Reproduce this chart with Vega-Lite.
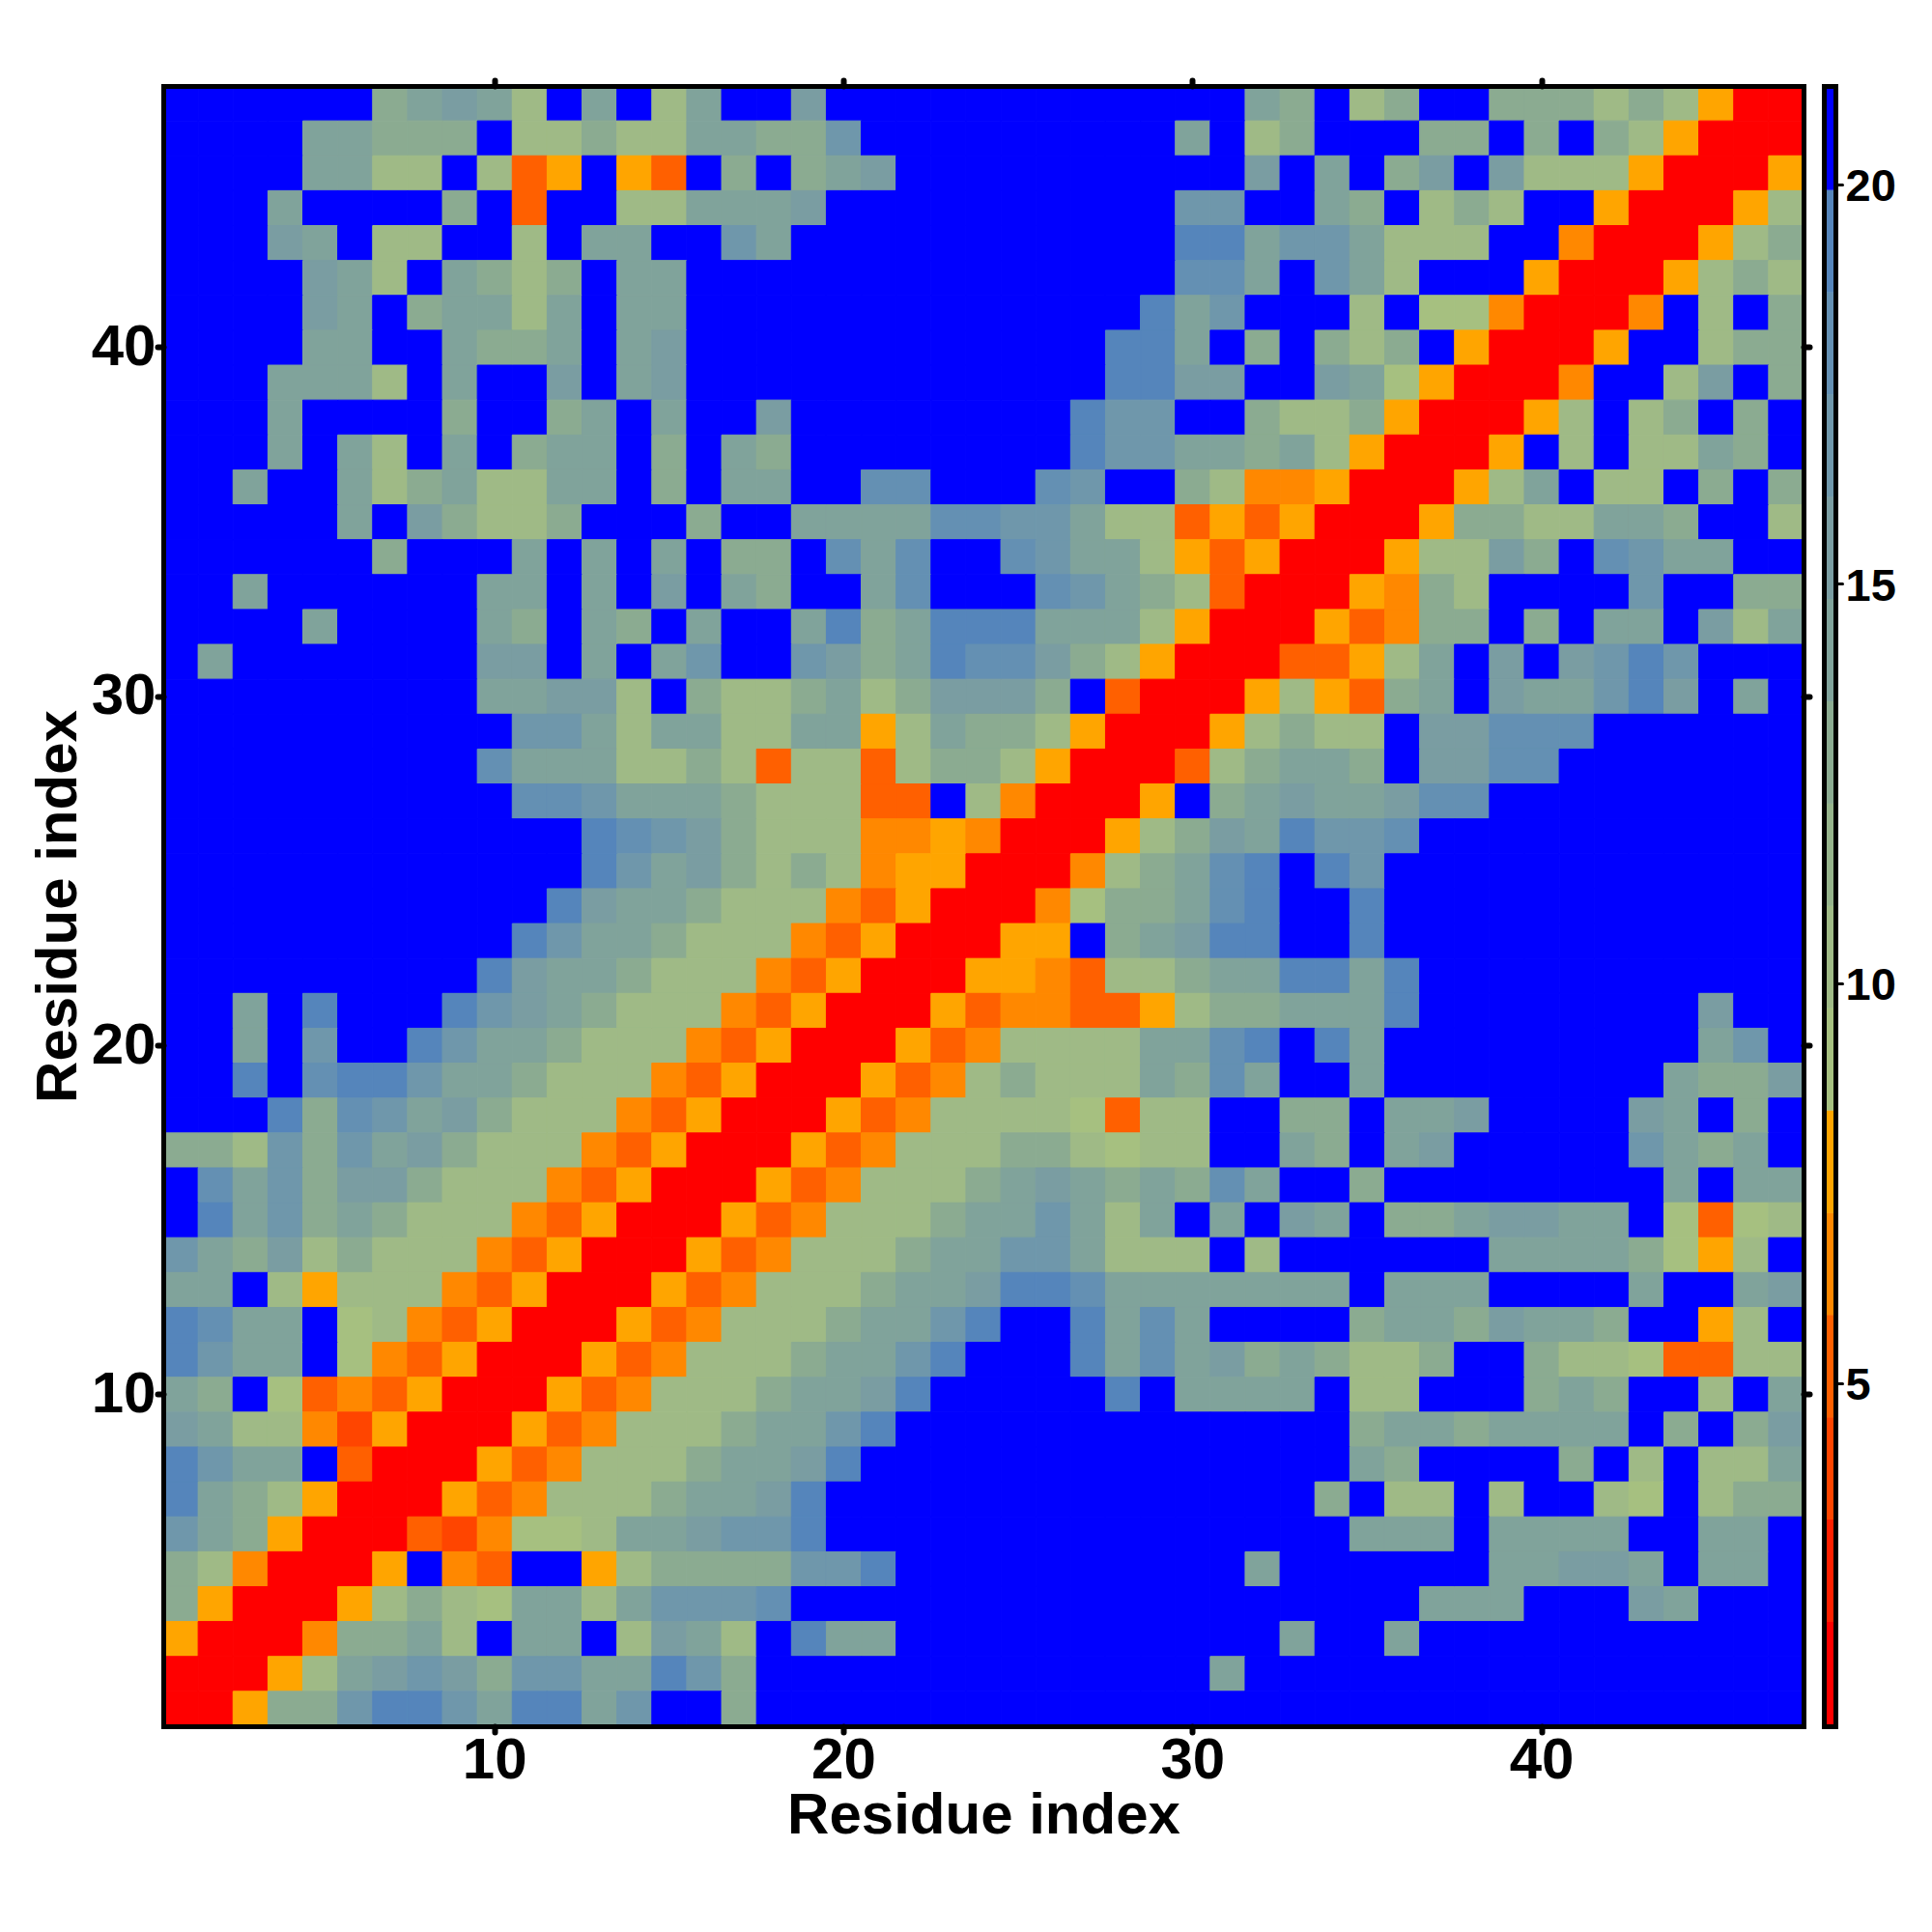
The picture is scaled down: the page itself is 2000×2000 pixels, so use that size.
{"$schema":"https://vega.github.io/schema/vega-lite/v6.json","background":"white","padding":{"left":30,"top":80,"right":0,"bottom":0},"spacing":12,"config":{"view":{"stroke":null},"axis":{"grid":false,"domainColor":"black","domainWidth":5,"domainCap":"square","tickColor":"black","tickCap":"round","labelOverlap":false,"labelFlush":false}},"hconcat":[{"width":1698,"height":1698,"data":{"values":[
{"x":1,"y":47,"v":21},{"x":2,"y":47,"v":21},{"x":3,"y":47,"v":21},{"x":4,"y":47,"v":21},{"x":5,"y":47,"v":21},{"x":6,"y":47,"v":21},{"x":7,"y":47,"v":12.9},{"x":8,"y":47,"v":14.2},{"x":9,"y":47,"v":15.4},{"x":10,"y":47,"v":14.2},{"x":11,"y":47,"v":10.3},{"x":12,"y":47,"v":21},{"x":13,"y":47,"v":14.2},{"x":14,"y":47,"v":21},{"x":15,"y":47,"v":10.3},{"x":16,"y":47,"v":14.2},{"x":17,"y":47,"v":21},{"x":18,"y":47,"v":21},{"x":19,"y":47,"v":15.4},{"x":20,"y":47,"v":21},{"x":21,"y":47,"v":21},{"x":22,"y":47,"v":21},{"x":23,"y":47,"v":21},{"x":24,"y":47,"v":21},{"x":25,"y":47,"v":21},{"x":26,"y":47,"v":21},{"x":27,"y":47,"v":21},{"x":28,"y":47,"v":21},{"x":29,"y":47,"v":21},{"x":30,"y":47,"v":21},{"x":31,"y":47,"v":21},{"x":32,"y":47,"v":14.2},{"x":33,"y":47,"v":12.9},{"x":34,"y":47,"v":21},{"x":35,"y":47,"v":10.3},{"x":36,"y":47,"v":12.9},{"x":37,"y":47,"v":21},{"x":38,"y":47,"v":21},{"x":39,"y":47,"v":12.9},{"x":40,"y":47,"v":12.9},{"x":41,"y":47,"v":12.9},{"x":42,"y":47,"v":10.3},{"x":43,"y":47,"v":12.9},{"x":44,"y":47,"v":10.3},{"x":45,"y":47,"v":7.8},{"x":46,"y":47,"v":1.4},{"x":47,"y":47,"v":1.4},
{"x":1,"y":46,"v":21},{"x":2,"y":46,"v":21},{"x":3,"y":46,"v":21},{"x":4,"y":46,"v":21},{"x":5,"y":46,"v":14.2},{"x":6,"y":46,"v":14.2},{"x":7,"y":46,"v":12.9},{"x":8,"y":46,"v":12.9},{"x":9,"y":46,"v":12.9},{"x":10,"y":46,"v":21},{"x":11,"y":46,"v":10.3},{"x":12,"y":46,"v":10.3},{"x":13,"y":46,"v":12.9},{"x":14,"y":46,"v":10.3},{"x":15,"y":46,"v":10.3},{"x":16,"y":46,"v":14.2},{"x":17,"y":46,"v":14.2},{"x":18,"y":46,"v":12.9},{"x":19,"y":46,"v":12.9},{"x":20,"y":46,"v":16.7},{"x":21,"y":46,"v":21},{"x":22,"y":46,"v":21},{"x":23,"y":46,"v":21},{"x":24,"y":46,"v":21},{"x":25,"y":46,"v":21},{"x":26,"y":46,"v":21},{"x":27,"y":46,"v":21},{"x":28,"y":46,"v":21},{"x":29,"y":46,"v":21},{"x":30,"y":46,"v":14.2},{"x":31,"y":46,"v":21},{"x":32,"y":46,"v":10.3},{"x":33,"y":46,"v":12.9},{"x":34,"y":46,"v":21},{"x":35,"y":46,"v":21},{"x":36,"y":46,"v":21},{"x":37,"y":46,"v":12.9},{"x":38,"y":46,"v":12.9},{"x":39,"y":46,"v":21},{"x":40,"y":46,"v":12.9},{"x":41,"y":46,"v":21},{"x":42,"y":46,"v":12.9},{"x":43,"y":46,"v":10.3},{"x":44,"y":46,"v":7.8},{"x":45,"y":46,"v":1.4},{"x":46,"y":46,"v":1.4},{"x":47,"y":46,"v":1.4},
{"x":1,"y":45,"v":21},{"x":2,"y":45,"v":21},{"x":3,"y":45,"v":21},{"x":4,"y":45,"v":21},{"x":5,"y":45,"v":14.2},{"x":6,"y":45,"v":14.2},{"x":7,"y":45,"v":10.3},{"x":8,"y":45,"v":10.3},{"x":9,"y":45,"v":21},{"x":10,"y":45,"v":10.3},{"x":11,"y":45,"v":5.2},{"x":12,"y":45,"v":7.8},{"x":13,"y":45,"v":21},{"x":14,"y":45,"v":7.8},{"x":15,"y":45,"v":5.2},{"x":16,"y":45,"v":21},{"x":17,"y":45,"v":12.9},{"x":18,"y":45,"v":21},{"x":19,"y":45,"v":12.9},{"x":20,"y":45,"v":14.2},{"x":21,"y":45,"v":15.4},{"x":22,"y":45,"v":21},{"x":23,"y":45,"v":21},{"x":24,"y":45,"v":21},{"x":25,"y":45,"v":21},{"x":26,"y":45,"v":21},{"x":27,"y":45,"v":21},{"x":28,"y":45,"v":21},{"x":29,"y":45,"v":21},{"x":30,"y":45,"v":21},{"x":31,"y":45,"v":21},{"x":32,"y":45,"v":15.4},{"x":33,"y":45,"v":21},{"x":34,"y":45,"v":14.2},{"x":35,"y":45,"v":21},{"x":36,"y":45,"v":12.9},{"x":37,"y":45,"v":15.4},{"x":38,"y":45,"v":21},{"x":39,"y":45,"v":15.4},{"x":40,"y":45,"v":10.3},{"x":41,"y":45,"v":10.3},{"x":42,"y":45,"v":10.3},{"x":43,"y":45,"v":7.8},{"x":44,"y":45,"v":1.4},{"x":45,"y":45,"v":1.4},{"x":46,"y":45,"v":1.4},{"x":47,"y":45,"v":7.8},
{"x":1,"y":44,"v":21},{"x":2,"y":44,"v":21},{"x":3,"y":44,"v":21},{"x":4,"y":44,"v":14.2},{"x":5,"y":44,"v":21},{"x":6,"y":44,"v":21},{"x":7,"y":44,"v":21},{"x":8,"y":44,"v":21},{"x":9,"y":44,"v":12.9},{"x":10,"y":44,"v":21},{"x":11,"y":44,"v":5.2},{"x":12,"y":44,"v":21},{"x":13,"y":44,"v":21},{"x":14,"y":44,"v":10.3},{"x":15,"y":44,"v":10.3},{"x":16,"y":44,"v":14.2},{"x":17,"y":44,"v":14.2},{"x":18,"y":44,"v":14.2},{"x":19,"y":44,"v":15.4},{"x":20,"y":44,"v":21},{"x":21,"y":44,"v":21},{"x":22,"y":44,"v":21},{"x":23,"y":44,"v":21},{"x":24,"y":44,"v":21},{"x":25,"y":44,"v":21},{"x":26,"y":44,"v":21},{"x":27,"y":44,"v":21},{"x":28,"y":44,"v":21},{"x":29,"y":44,"v":21},{"x":30,"y":44,"v":16.7},{"x":31,"y":44,"v":16.7},{"x":32,"y":44,"v":21},{"x":33,"y":44,"v":21},{"x":34,"y":44,"v":14.2},{"x":35,"y":44,"v":12.9},{"x":36,"y":44,"v":21},{"x":37,"y":44,"v":10.3},{"x":38,"y":44,"v":12.9},{"x":39,"y":44,"v":10.3},{"x":40,"y":44,"v":21},{"x":41,"y":44,"v":21},{"x":42,"y":44,"v":7.8},{"x":43,"y":44,"v":1.4},{"x":44,"y":44,"v":1.4},{"x":45,"y":44,"v":1.4},{"x":46,"y":44,"v":7.8},{"x":47,"y":44,"v":10.3},
{"x":1,"y":43,"v":21},{"x":2,"y":43,"v":21},{"x":3,"y":43,"v":21},{"x":4,"y":43,"v":15.4},{"x":5,"y":43,"v":14.2},{"x":6,"y":43,"v":21},{"x":7,"y":43,"v":10.3},{"x":8,"y":43,"v":10.3},{"x":9,"y":43,"v":21},{"x":10,"y":43,"v":21},{"x":11,"y":43,"v":10.3},{"x":12,"y":43,"v":21},{"x":13,"y":43,"v":14.2},{"x":14,"y":43,"v":14.2},{"x":15,"y":43,"v":21},{"x":16,"y":43,"v":21},{"x":17,"y":43,"v":16.7},{"x":18,"y":43,"v":14.2},{"x":19,"y":43,"v":21},{"x":20,"y":43,"v":21},{"x":21,"y":43,"v":21},{"x":22,"y":43,"v":21},{"x":23,"y":43,"v":21},{"x":24,"y":43,"v":21},{"x":25,"y":43,"v":21},{"x":26,"y":43,"v":21},{"x":27,"y":43,"v":21},{"x":28,"y":43,"v":21},{"x":29,"y":43,"v":21},{"x":30,"y":43,"v":19.3},{"x":31,"y":43,"v":19.3},{"x":32,"y":43,"v":14.2},{"x":33,"y":43,"v":16.7},{"x":34,"y":43,"v":16.7},{"x":35,"y":43,"v":14.2},{"x":36,"y":43,"v":10.3},{"x":37,"y":43,"v":10.3},{"x":38,"y":43,"v":10.3},{"x":39,"y":43,"v":21},{"x":40,"y":43,"v":21},{"x":41,"y":43,"v":6.5},{"x":42,"y":43,"v":1.4},{"x":43,"y":43,"v":1.4},{"x":44,"y":43,"v":1.4},{"x":45,"y":43,"v":7.8},{"x":46,"y":43,"v":10.3},{"x":47,"y":43,"v":12.9},
{"x":1,"y":42,"v":21},{"x":2,"y":42,"v":21},{"x":3,"y":42,"v":21},{"x":4,"y":42,"v":21},{"x":5,"y":42,"v":15.4},{"x":6,"y":42,"v":14.2},{"x":7,"y":42,"v":10.3},{"x":8,"y":42,"v":21},{"x":9,"y":42,"v":14.2},{"x":10,"y":42,"v":12.9},{"x":11,"y":42,"v":10.3},{"x":12,"y":42,"v":12.9},{"x":13,"y":42,"v":21},{"x":14,"y":42,"v":14.2},{"x":15,"y":42,"v":14.2},{"x":16,"y":42,"v":21},{"x":17,"y":42,"v":21},{"x":18,"y":42,"v":21},{"x":19,"y":42,"v":21},{"x":20,"y":42,"v":21},{"x":21,"y":42,"v":21},{"x":22,"y":42,"v":21},{"x":23,"y":42,"v":21},{"x":24,"y":42,"v":21},{"x":25,"y":42,"v":21},{"x":26,"y":42,"v":21},{"x":27,"y":42,"v":21},{"x":28,"y":42,"v":21},{"x":29,"y":42,"v":21},{"x":30,"y":42,"v":18},{"x":31,"y":42,"v":18},{"x":32,"y":42,"v":14.2},{"x":33,"y":42,"v":21},{"x":34,"y":42,"v":16.7},{"x":35,"y":42,"v":14.2},{"x":36,"y":42,"v":10.3},{"x":37,"y":42,"v":21},{"x":38,"y":42,"v":21},{"x":39,"y":42,"v":21},{"x":40,"y":42,"v":7.8},{"x":41,"y":42,"v":1.4},{"x":42,"y":42,"v":1.4},{"x":43,"y":42,"v":1.4},{"x":44,"y":42,"v":7.8},{"x":45,"y":42,"v":10.3},{"x":46,"y":42,"v":12.9},{"x":47,"y":42,"v":10.3},
{"x":1,"y":41,"v":21},{"x":2,"y":41,"v":21},{"x":3,"y":41,"v":21},{"x":4,"y":41,"v":21},{"x":5,"y":41,"v":15.4},{"x":6,"y":41,"v":14.2},{"x":7,"y":41,"v":21},{"x":8,"y":41,"v":12.9},{"x":9,"y":41,"v":14.2},{"x":10,"y":41,"v":14.2},{"x":11,"y":41,"v":10.3},{"x":12,"y":41,"v":14.2},{"x":13,"y":41,"v":21},{"x":14,"y":41,"v":14.2},{"x":15,"y":41,"v":14.2},{"x":16,"y":41,"v":21},{"x":17,"y":41,"v":21},{"x":18,"y":41,"v":21},{"x":19,"y":41,"v":21},{"x":20,"y":41,"v":21},{"x":21,"y":41,"v":21},{"x":22,"y":41,"v":21},{"x":23,"y":41,"v":21},{"x":24,"y":41,"v":21},{"x":25,"y":41,"v":21},{"x":26,"y":41,"v":21},{"x":27,"y":41,"v":21},{"x":28,"y":41,"v":21},{"x":29,"y":41,"v":19.3},{"x":30,"y":41,"v":14.2},{"x":31,"y":41,"v":16.7},{"x":32,"y":41,"v":21},{"x":33,"y":41,"v":21},{"x":34,"y":41,"v":21},{"x":35,"y":41,"v":10.3},{"x":36,"y":41,"v":21},{"x":37,"y":41,"v":9},{"x":38,"y":41,"v":9},{"x":39,"y":41,"v":6.5},{"x":40,"y":41,"v":1.4},{"x":41,"y":41,"v":1.4},{"x":42,"y":41,"v":1.4},{"x":43,"y":41,"v":6.5},{"x":44,"y":41,"v":21},{"x":45,"y":41,"v":10.3},{"x":46,"y":41,"v":21},{"x":47,"y":41,"v":12.9},
{"x":1,"y":40,"v":21},{"x":2,"y":40,"v":21},{"x":3,"y":40,"v":21},{"x":4,"y":40,"v":21},{"x":5,"y":40,"v":14.2},{"x":6,"y":40,"v":14.2},{"x":7,"y":40,"v":21},{"x":8,"y":40,"v":21},{"x":9,"y":40,"v":14.2},{"x":10,"y":40,"v":12.9},{"x":11,"y":40,"v":12.9},{"x":12,"y":40,"v":14.2},{"x":13,"y":40,"v":21},{"x":14,"y":40,"v":14.2},{"x":15,"y":40,"v":15.4},{"x":16,"y":40,"v":21},{"x":17,"y":40,"v":21},{"x":18,"y":40,"v":21},{"x":19,"y":40,"v":21},{"x":20,"y":40,"v":21},{"x":21,"y":40,"v":21},{"x":22,"y":40,"v":21},{"x":23,"y":40,"v":21},{"x":24,"y":40,"v":21},{"x":25,"y":40,"v":21},{"x":26,"y":40,"v":21},{"x":27,"y":40,"v":21},{"x":28,"y":40,"v":19.3},{"x":29,"y":40,"v":19.3},{"x":30,"y":40,"v":14.2},{"x":31,"y":40,"v":21},{"x":32,"y":40,"v":12.9},{"x":33,"y":40,"v":21},{"x":34,"y":40,"v":12.9},{"x":35,"y":40,"v":10.3},{"x":36,"y":40,"v":12.9},{"x":37,"y":40,"v":21},{"x":38,"y":40,"v":7.8},{"x":39,"y":40,"v":1.4},{"x":40,"y":40,"v":1.4},{"x":41,"y":40,"v":1.4},{"x":42,"y":40,"v":7.8},{"x":43,"y":40,"v":21},{"x":44,"y":40,"v":21},{"x":45,"y":40,"v":10.3},{"x":46,"y":40,"v":12.9},{"x":47,"y":40,"v":12.9},
{"x":1,"y":39,"v":21},{"x":2,"y":39,"v":21},{"x":3,"y":39,"v":21},{"x":4,"y":39,"v":14.2},{"x":5,"y":39,"v":14.2},{"x":6,"y":39,"v":14.2},{"x":7,"y":39,"v":10.3},{"x":8,"y":39,"v":21},{"x":9,"y":39,"v":14.2},{"x":10,"y":39,"v":21},{"x":11,"y":39,"v":21},{"x":12,"y":39,"v":15.4},{"x":13,"y":39,"v":21},{"x":14,"y":39,"v":14.2},{"x":15,"y":39,"v":15.4},{"x":16,"y":39,"v":21},{"x":17,"y":39,"v":21},{"x":18,"y":39,"v":21},{"x":19,"y":39,"v":21},{"x":20,"y":39,"v":21},{"x":21,"y":39,"v":21},{"x":22,"y":39,"v":21},{"x":23,"y":39,"v":21},{"x":24,"y":39,"v":21},{"x":25,"y":39,"v":21},{"x":26,"y":39,"v":21},{"x":27,"y":39,"v":21},{"x":28,"y":39,"v":19.3},{"x":29,"y":39,"v":19.3},{"x":30,"y":39,"v":15.4},{"x":31,"y":39,"v":15.4},{"x":32,"y":39,"v":21},{"x":33,"y":39,"v":21},{"x":34,"y":39,"v":15.4},{"x":35,"y":39,"v":14.2},{"x":36,"y":39,"v":9},{"x":37,"y":39,"v":7.8},{"x":38,"y":39,"v":1.4},{"x":39,"y":39,"v":1.4},{"x":40,"y":39,"v":1.4},{"x":41,"y":39,"v":6.5},{"x":42,"y":39,"v":21},{"x":43,"y":39,"v":21},{"x":44,"y":39,"v":10.3},{"x":45,"y":39,"v":15.4},{"x":46,"y":39,"v":21},{"x":47,"y":39,"v":12.9},
{"x":1,"y":38,"v":21},{"x":2,"y":38,"v":21},{"x":3,"y":38,"v":21},{"x":4,"y":38,"v":14.2},{"x":5,"y":38,"v":21},{"x":6,"y":38,"v":21},{"x":7,"y":38,"v":21},{"x":8,"y":38,"v":21},{"x":9,"y":38,"v":12.9},{"x":10,"y":38,"v":21},{"x":11,"y":38,"v":21},{"x":12,"y":38,"v":12.9},{"x":13,"y":38,"v":14.2},{"x":14,"y":38,"v":21},{"x":15,"y":38,"v":14.2},{"x":16,"y":38,"v":21},{"x":17,"y":38,"v":21},{"x":18,"y":38,"v":15.4},{"x":19,"y":38,"v":21},{"x":20,"y":38,"v":21},{"x":21,"y":38,"v":21},{"x":22,"y":38,"v":21},{"x":23,"y":38,"v":21},{"x":24,"y":38,"v":21},{"x":25,"y":38,"v":21},{"x":26,"y":38,"v":21},{"x":27,"y":38,"v":19.3},{"x":28,"y":38,"v":16.7},{"x":29,"y":38,"v":16.7},{"x":30,"y":38,"v":21},{"x":31,"y":38,"v":21},{"x":32,"y":38,"v":12.9},{"x":33,"y":38,"v":10.3},{"x":34,"y":38,"v":10.3},{"x":35,"y":38,"v":12.9},{"x":36,"y":38,"v":7.8},{"x":37,"y":38,"v":1.4},{"x":38,"y":38,"v":1.4},{"x":39,"y":38,"v":1.4},{"x":40,"y":38,"v":7.8},{"x":41,"y":38,"v":10.3},{"x":42,"y":38,"v":21},{"x":43,"y":38,"v":10.3},{"x":44,"y":38,"v":12.9},{"x":45,"y":38,"v":21},{"x":46,"y":38,"v":12.9},{"x":47,"y":38,"v":21},
{"x":1,"y":37,"v":21},{"x":2,"y":37,"v":21},{"x":3,"y":37,"v":21},{"x":4,"y":37,"v":14.2},{"x":5,"y":37,"v":21},{"x":6,"y":37,"v":14.2},{"x":7,"y":37,"v":10.3},{"x":8,"y":37,"v":21},{"x":9,"y":37,"v":14.2},{"x":10,"y":37,"v":21},{"x":11,"y":37,"v":12.9},{"x":12,"y":37,"v":14.2},{"x":13,"y":37,"v":14.2},{"x":14,"y":37,"v":21},{"x":15,"y":37,"v":12.9},{"x":16,"y":37,"v":21},{"x":17,"y":37,"v":14.2},{"x":18,"y":37,"v":12.9},{"x":19,"y":37,"v":21},{"x":20,"y":37,"v":21},{"x":21,"y":37,"v":21},{"x":22,"y":37,"v":21},{"x":23,"y":37,"v":21},{"x":24,"y":37,"v":21},{"x":25,"y":37,"v":21},{"x":26,"y":37,"v":21},{"x":27,"y":37,"v":19.3},{"x":28,"y":37,"v":16.7},{"x":29,"y":37,"v":16.7},{"x":30,"y":37,"v":14.2},{"x":31,"y":37,"v":14.2},{"x":32,"y":37,"v":12.9},{"x":33,"y":37,"v":14.2},{"x":34,"y":37,"v":10.3},{"x":35,"y":37,"v":7.8},{"x":36,"y":37,"v":1.4},{"x":37,"y":37,"v":1.4},{"x":38,"y":37,"v":1.4},{"x":39,"y":37,"v":7.8},{"x":40,"y":37,"v":21},{"x":41,"y":37,"v":10.3},{"x":42,"y":37,"v":21},{"x":43,"y":37,"v":10.3},{"x":44,"y":37,"v":10.3},{"x":45,"y":37,"v":14.2},{"x":46,"y":37,"v":12.9},{"x":47,"y":37,"v":21},
{"x":1,"y":36,"v":21},{"x":2,"y":36,"v":21},{"x":3,"y":36,"v":14.2},{"x":4,"y":36,"v":21},{"x":5,"y":36,"v":21},{"x":6,"y":36,"v":14.2},{"x":7,"y":36,"v":10.3},{"x":8,"y":36,"v":12.9},{"x":9,"y":36,"v":14.2},{"x":10,"y":36,"v":10.3},{"x":11,"y":36,"v":10.3},{"x":12,"y":36,"v":14.2},{"x":13,"y":36,"v":14.2},{"x":14,"y":36,"v":21},{"x":15,"y":36,"v":12.9},{"x":16,"y":36,"v":21},{"x":17,"y":36,"v":14.2},{"x":18,"y":36,"v":14.2},{"x":19,"y":36,"v":21},{"x":20,"y":36,"v":21},{"x":21,"y":36,"v":18},{"x":22,"y":36,"v":18},{"x":23,"y":36,"v":21},{"x":24,"y":36,"v":21},{"x":25,"y":36,"v":21},{"x":26,"y":36,"v":18},{"x":27,"y":36,"v":16.7},{"x":28,"y":36,"v":21},{"x":29,"y":36,"v":21},{"x":30,"y":36,"v":12.9},{"x":31,"y":36,"v":10.3},{"x":32,"y":36,"v":6.5},{"x":33,"y":36,"v":6.5},{"x":34,"y":36,"v":7.8},{"x":35,"y":36,"v":1.4},{"x":36,"y":36,"v":1.4},{"x":37,"y":36,"v":1.4},{"x":38,"y":36,"v":7.8},{"x":39,"y":36,"v":10.3},{"x":40,"y":36,"v":14.2},{"x":41,"y":36,"v":21},{"x":42,"y":36,"v":10.3},{"x":43,"y":36,"v":10.3},{"x":44,"y":36,"v":21},{"x":45,"y":36,"v":12.9},{"x":46,"y":36,"v":21},{"x":47,"y":36,"v":12.9},
{"x":1,"y":35,"v":21},{"x":2,"y":35,"v":21},{"x":3,"y":35,"v":21},{"x":4,"y":35,"v":21},{"x":5,"y":35,"v":21},{"x":6,"y":35,"v":14.2},{"x":7,"y":35,"v":21},{"x":8,"y":35,"v":15.4},{"x":9,"y":35,"v":12.9},{"x":10,"y":35,"v":10.3},{"x":11,"y":35,"v":10.3},{"x":12,"y":35,"v":12.9},{"x":13,"y":35,"v":21},{"x":14,"y":35,"v":21},{"x":15,"y":35,"v":21},{"x":16,"y":35,"v":12.9},{"x":17,"y":35,"v":21},{"x":18,"y":35,"v":21},{"x":19,"y":35,"v":14.2},{"x":20,"y":35,"v":14.2},{"x":21,"y":35,"v":14.2},{"x":22,"y":35,"v":14.2},{"x":23,"y":35,"v":18},{"x":24,"y":35,"v":18},{"x":25,"y":35,"v":16.7},{"x":26,"y":35,"v":16.7},{"x":27,"y":35,"v":14.2},{"x":28,"y":35,"v":10.3},{"x":29,"y":35,"v":10.3},{"x":30,"y":35,"v":5.2},{"x":31,"y":35,"v":7.8},{"x":32,"y":35,"v":5.2},{"x":33,"y":35,"v":7.8},{"x":34,"y":35,"v":1.4},{"x":35,"y":35,"v":1.4},{"x":36,"y":35,"v":1.4},{"x":37,"y":35,"v":7.8},{"x":38,"y":35,"v":12.9},{"x":39,"y":35,"v":12.9},{"x":40,"y":35,"v":10.3},{"x":41,"y":35,"v":10.3},{"x":42,"y":35,"v":14.2},{"x":43,"y":35,"v":14.2},{"x":44,"y":35,"v":12.9},{"x":45,"y":35,"v":21},{"x":46,"y":35,"v":21},{"x":47,"y":35,"v":10.3},
{"x":1,"y":34,"v":21},{"x":2,"y":34,"v":21},{"x":3,"y":34,"v":21},{"x":4,"y":34,"v":21},{"x":5,"y":34,"v":21},{"x":6,"y":34,"v":21},{"x":7,"y":34,"v":12.9},{"x":8,"y":34,"v":21},{"x":9,"y":34,"v":21},{"x":10,"y":34,"v":21},{"x":11,"y":34,"v":14.2},{"x":12,"y":34,"v":21},{"x":13,"y":34,"v":14.2},{"x":14,"y":34,"v":21},{"x":15,"y":34,"v":14.2},{"x":16,"y":34,"v":21},{"x":17,"y":34,"v":12.9},{"x":18,"y":34,"v":12.9},{"x":19,"y":34,"v":21},{"x":20,"y":34,"v":18},{"x":21,"y":34,"v":14.2},{"x":22,"y":34,"v":18},{"x":23,"y":34,"v":21},{"x":24,"y":34,"v":21},{"x":25,"y":34,"v":18},{"x":26,"y":34,"v":16.7},{"x":27,"y":34,"v":14.2},{"x":28,"y":34,"v":14.2},{"x":29,"y":34,"v":10.3},{"x":30,"y":34,"v":7.8},{"x":31,"y":34,"v":5.2},{"x":32,"y":34,"v":7.8},{"x":33,"y":34,"v":1.4},{"x":34,"y":34,"v":1.4},{"x":35,"y":34,"v":1.4},{"x":36,"y":34,"v":7.8},{"x":37,"y":34,"v":10.3},{"x":38,"y":34,"v":10.3},{"x":39,"y":34,"v":15.4},{"x":40,"y":34,"v":12.9},{"x":41,"y":34,"v":21},{"x":42,"y":34,"v":18},{"x":43,"y":34,"v":16.7},{"x":44,"y":34,"v":14.2},{"x":45,"y":34,"v":14.2},{"x":46,"y":34,"v":21},{"x":47,"y":34,"v":21},
{"x":1,"y":33,"v":21},{"x":2,"y":33,"v":21},{"x":3,"y":33,"v":14.2},{"x":4,"y":33,"v":21},{"x":5,"y":33,"v":21},{"x":6,"y":33,"v":21},{"x":7,"y":33,"v":21},{"x":8,"y":33,"v":21},{"x":9,"y":33,"v":21},{"x":10,"y":33,"v":14.2},{"x":11,"y":33,"v":14.2},{"x":12,"y":33,"v":21},{"x":13,"y":33,"v":14.2},{"x":14,"y":33,"v":21},{"x":15,"y":33,"v":15.4},{"x":16,"y":33,"v":21},{"x":17,"y":33,"v":14.2},{"x":18,"y":33,"v":12.9},{"x":19,"y":33,"v":21},{"x":20,"y":33,"v":21},{"x":21,"y":33,"v":14.2},{"x":22,"y":33,"v":18},{"x":23,"y":33,"v":21},{"x":24,"y":33,"v":21},{"x":25,"y":33,"v":21},{"x":26,"y":33,"v":18},{"x":27,"y":33,"v":16.7},{"x":28,"y":33,"v":14.2},{"x":29,"y":33,"v":12.9},{"x":30,"y":33,"v":10.3},{"x":31,"y":33,"v":5.2},{"x":32,"y":33,"v":1.4},{"x":33,"y":33,"v":1.4},{"x":34,"y":33,"v":1.4},{"x":35,"y":33,"v":7.8},{"x":36,"y":33,"v":6.5},{"x":37,"y":33,"v":12.9},{"x":38,"y":33,"v":10.3},{"x":39,"y":33,"v":21},{"x":40,"y":33,"v":21},{"x":41,"y":33,"v":21},{"x":42,"y":33,"v":21},{"x":43,"y":33,"v":16.7},{"x":44,"y":33,"v":21},{"x":45,"y":33,"v":21},{"x":46,"y":33,"v":12.9},{"x":47,"y":33,"v":12.9},
{"x":1,"y":32,"v":21},{"x":2,"y":32,"v":21},{"x":3,"y":32,"v":21},{"x":4,"y":32,"v":21},{"x":5,"y":32,"v":14.2},{"x":6,"y":32,"v":21},{"x":7,"y":32,"v":21},{"x":8,"y":32,"v":21},{"x":9,"y":32,"v":21},{"x":10,"y":32,"v":14.2},{"x":11,"y":32,"v":12.9},{"x":12,"y":32,"v":21},{"x":13,"y":32,"v":14.2},{"x":14,"y":32,"v":12.9},{"x":15,"y":32,"v":21},{"x":16,"y":32,"v":14.2},{"x":17,"y":32,"v":21},{"x":18,"y":32,"v":21},{"x":19,"y":32,"v":14.2},{"x":20,"y":32,"v":19.3},{"x":21,"y":32,"v":12.9},{"x":22,"y":32,"v":14.2},{"x":23,"y":32,"v":19.3},{"x":24,"y":32,"v":19.3},{"x":25,"y":32,"v":19.3},{"x":26,"y":32,"v":14.2},{"x":27,"y":32,"v":14.2},{"x":28,"y":32,"v":14.2},{"x":29,"y":32,"v":10.3},{"x":30,"y":32,"v":7.8},{"x":31,"y":32,"v":1.4},{"x":32,"y":32,"v":1.4},{"x":33,"y":32,"v":1.4},{"x":34,"y":32,"v":7.8},{"x":35,"y":32,"v":5.2},{"x":36,"y":32,"v":6.5},{"x":37,"y":32,"v":12.9},{"x":38,"y":32,"v":12.9},{"x":39,"y":32,"v":21},{"x":40,"y":32,"v":12.9},{"x":41,"y":32,"v":21},{"x":42,"y":32,"v":14.2},{"x":43,"y":32,"v":14.2},{"x":44,"y":32,"v":21},{"x":45,"y":32,"v":15.4},{"x":46,"y":32,"v":10.3},{"x":47,"y":32,"v":14.2},
{"x":1,"y":31,"v":21},{"x":2,"y":31,"v":14.2},{"x":3,"y":31,"v":21},{"x":4,"y":31,"v":21},{"x":5,"y":31,"v":21},{"x":6,"y":31,"v":21},{"x":7,"y":31,"v":21},{"x":8,"y":31,"v":21},{"x":9,"y":31,"v":21},{"x":10,"y":31,"v":15.4},{"x":11,"y":31,"v":15.4},{"x":12,"y":31,"v":21},{"x":13,"y":31,"v":14.2},{"x":14,"y":31,"v":21},{"x":15,"y":31,"v":14.2},{"x":16,"y":31,"v":16.7},{"x":17,"y":31,"v":21},{"x":18,"y":31,"v":21},{"x":19,"y":31,"v":16.7},{"x":20,"y":31,"v":15.4},{"x":21,"y":31,"v":12.9},{"x":22,"y":31,"v":14.2},{"x":23,"y":31,"v":19.3},{"x":24,"y":31,"v":18},{"x":25,"y":31,"v":18},{"x":26,"y":31,"v":15.4},{"x":27,"y":31,"v":12.9},{"x":28,"y":31,"v":10.3},{"x":29,"y":31,"v":7.8},{"x":30,"y":31,"v":1.4},{"x":31,"y":31,"v":1.4},{"x":32,"y":31,"v":1.4},{"x":33,"y":31,"v":5.2},{"x":34,"y":31,"v":5.2},{"x":35,"y":31,"v":7.8},{"x":36,"y":31,"v":10.3},{"x":37,"y":31,"v":14.2},{"x":38,"y":31,"v":21},{"x":39,"y":31,"v":15.4},{"x":40,"y":31,"v":21},{"x":41,"y":31,"v":15.4},{"x":42,"y":31,"v":16.7},{"x":43,"y":31,"v":19.3},{"x":44,"y":31,"v":16.7},{"x":45,"y":31,"v":21},{"x":46,"y":31,"v":21},{"x":47,"y":31,"v":21},
{"x":1,"y":30,"v":21},{"x":2,"y":30,"v":21},{"x":3,"y":30,"v":21},{"x":4,"y":30,"v":21},{"x":5,"y":30,"v":21},{"x":6,"y":30,"v":21},{"x":7,"y":30,"v":21},{"x":8,"y":30,"v":21},{"x":9,"y":30,"v":21},{"x":10,"y":30,"v":14.2},{"x":11,"y":30,"v":14.2},{"x":12,"y":30,"v":15.4},{"x":13,"y":30,"v":15.4},{"x":14,"y":30,"v":10.3},{"x":15,"y":30,"v":21},{"x":16,"y":30,"v":12.9},{"x":17,"y":30,"v":10.3},{"x":18,"y":30,"v":10.3},{"x":19,"y":30,"v":12.9},{"x":20,"y":30,"v":14.2},{"x":21,"y":30,"v":10.3},{"x":22,"y":30,"v":12.9},{"x":23,"y":30,"v":15.4},{"x":24,"y":30,"v":15.4},{"x":25,"y":30,"v":15.4},{"x":26,"y":30,"v":12.9},{"x":27,"y":30,"v":21},{"x":28,"y":30,"v":5.2},{"x":29,"y":30,"v":1.4},{"x":30,"y":30,"v":1.4},{"x":31,"y":30,"v":1.4},{"x":32,"y":30,"v":7.8},{"x":33,"y":30,"v":10.3},{"x":34,"y":30,"v":7.8},{"x":35,"y":30,"v":5.2},{"x":36,"y":30,"v":12.9},{"x":37,"y":30,"v":14.2},{"x":38,"y":30,"v":21},{"x":39,"y":30,"v":15.4},{"x":40,"y":30,"v":14.2},{"x":41,"y":30,"v":14.2},{"x":42,"y":30,"v":16.7},{"x":43,"y":30,"v":19.3},{"x":44,"y":30,"v":15.4},{"x":45,"y":30,"v":21},{"x":46,"y":30,"v":14.2},{"x":47,"y":30,"v":21},
{"x":1,"y":29,"v":21},{"x":2,"y":29,"v":21},{"x":3,"y":29,"v":21},{"x":4,"y":29,"v":21},{"x":5,"y":29,"v":21},{"x":6,"y":29,"v":21},{"x":7,"y":29,"v":21},{"x":8,"y":29,"v":21},{"x":9,"y":29,"v":21},{"x":10,"y":29,"v":21},{"x":11,"y":29,"v":16.7},{"x":12,"y":29,"v":16.7},{"x":13,"y":29,"v":14.2},{"x":14,"y":29,"v":10.3},{"x":15,"y":29,"v":14.2},{"x":16,"y":29,"v":14.2},{"x":17,"y":29,"v":10.3},{"x":18,"y":29,"v":10.3},{"x":19,"y":29,"v":14.2},{"x":20,"y":29,"v":14.2},{"x":21,"y":29,"v":7.8},{"x":22,"y":29,"v":10.3},{"x":23,"y":29,"v":14.2},{"x":24,"y":29,"v":12.9},{"x":25,"y":29,"v":12.9},{"x":26,"y":29,"v":10.3},{"x":27,"y":29,"v":7.8},{"x":28,"y":29,"v":1.4},{"x":29,"y":29,"v":1.4},{"x":30,"y":29,"v":1.4},{"x":31,"y":29,"v":7.8},{"x":32,"y":29,"v":10.3},{"x":33,"y":29,"v":12.9},{"x":34,"y":29,"v":10.3},{"x":35,"y":29,"v":10.3},{"x":36,"y":29,"v":21},{"x":37,"y":29,"v":15.4},{"x":38,"y":29,"v":15.4},{"x":39,"y":29,"v":18},{"x":40,"y":29,"v":18},{"x":41,"y":29,"v":18},{"x":42,"y":29,"v":21},{"x":43,"y":29,"v":21},{"x":44,"y":29,"v":21},{"x":45,"y":29,"v":21},{"x":46,"y":29,"v":21},{"x":47,"y":29,"v":21},
{"x":1,"y":28,"v":21},{"x":2,"y":28,"v":21},{"x":3,"y":28,"v":21},{"x":4,"y":28,"v":21},{"x":5,"y":28,"v":21},{"x":6,"y":28,"v":21},{"x":7,"y":28,"v":21},{"x":8,"y":28,"v":21},{"x":9,"y":28,"v":21},{"x":10,"y":28,"v":18},{"x":11,"y":28,"v":14.2},{"x":12,"y":28,"v":14.2},{"x":13,"y":28,"v":14.2},{"x":14,"y":28,"v":10.3},{"x":15,"y":28,"v":10.3},{"x":16,"y":28,"v":12.9},{"x":17,"y":28,"v":10.3},{"x":18,"y":28,"v":5.2},{"x":19,"y":28,"v":10.3},{"x":20,"y":28,"v":10.3},{"x":21,"y":28,"v":5.2},{"x":22,"y":28,"v":10.3},{"x":23,"y":28,"v":12.9},{"x":24,"y":28,"v":12.9},{"x":25,"y":28,"v":10.3},{"x":26,"y":28,"v":7.8},{"x":27,"y":28,"v":1.4},{"x":28,"y":28,"v":1.4},{"x":29,"y":28,"v":1.4},{"x":30,"y":28,"v":5.2},{"x":31,"y":28,"v":10.3},{"x":32,"y":28,"v":12.9},{"x":33,"y":28,"v":14.2},{"x":34,"y":28,"v":14.2},{"x":35,"y":28,"v":12.9},{"x":36,"y":28,"v":21},{"x":37,"y":28,"v":15.4},{"x":38,"y":28,"v":15.4},{"x":39,"y":28,"v":18},{"x":40,"y":28,"v":18},{"x":41,"y":28,"v":21},{"x":42,"y":28,"v":21},{"x":43,"y":28,"v":21},{"x":44,"y":28,"v":21},{"x":45,"y":28,"v":21},{"x":46,"y":28,"v":21},{"x":47,"y":28,"v":21},
{"x":1,"y":27,"v":21},{"x":2,"y":27,"v":21},{"x":3,"y":27,"v":21},{"x":4,"y":27,"v":21},{"x":5,"y":27,"v":21},{"x":6,"y":27,"v":21},{"x":7,"y":27,"v":21},{"x":8,"y":27,"v":21},{"x":9,"y":27,"v":21},{"x":10,"y":27,"v":21},{"x":11,"y":27,"v":18},{"x":12,"y":27,"v":18},{"x":13,"y":27,"v":16.7},{"x":14,"y":27,"v":14.2},{"x":15,"y":27,"v":14.2},{"x":16,"y":27,"v":14.2},{"x":17,"y":27,"v":12.9},{"x":18,"y":27,"v":10.3},{"x":19,"y":27,"v":10.3},{"x":20,"y":27,"v":10.3},{"x":21,"y":27,"v":5.2},{"x":22,"y":27,"v":5.2},{"x":23,"y":27,"v":21},{"x":24,"y":27,"v":10.3},{"x":25,"y":27,"v":6.5},{"x":26,"y":27,"v":1.4},{"x":27,"y":27,"v":1.4},{"x":28,"y":27,"v":1.4},{"x":29,"y":27,"v":7.8},{"x":30,"y":27,"v":21},{"x":31,"y":27,"v":12.9},{"x":32,"y":27,"v":14.2},{"x":33,"y":27,"v":15.4},{"x":34,"y":27,"v":14.2},{"x":35,"y":27,"v":14.2},{"x":36,"y":27,"v":15.4},{"x":37,"y":27,"v":18},{"x":38,"y":27,"v":18},{"x":39,"y":27,"v":21},{"x":40,"y":27,"v":21},{"x":41,"y":27,"v":21},{"x":42,"y":27,"v":21},{"x":43,"y":27,"v":21},{"x":44,"y":27,"v":21},{"x":45,"y":27,"v":21},{"x":46,"y":27,"v":21},{"x":47,"y":27,"v":21},
{"x":1,"y":26,"v":21},{"x":2,"y":26,"v":21},{"x":3,"y":26,"v":21},{"x":4,"y":26,"v":21},{"x":5,"y":26,"v":21},{"x":6,"y":26,"v":21},{"x":7,"y":26,"v":21},{"x":8,"y":26,"v":21},{"x":9,"y":26,"v":21},{"x":10,"y":26,"v":21},{"x":11,"y":26,"v":21},{"x":12,"y":26,"v":21},{"x":13,"y":26,"v":19.3},{"x":14,"y":26,"v":18},{"x":15,"y":26,"v":16.7},{"x":16,"y":26,"v":15.4},{"x":17,"y":26,"v":12.9},{"x":18,"y":26,"v":10.3},{"x":19,"y":26,"v":10.3},{"x":20,"y":26,"v":10.3},{"x":21,"y":26,"v":6.5},{"x":22,"y":26,"v":6.5},{"x":23,"y":26,"v":7.8},{"x":24,"y":26,"v":6.5},{"x":25,"y":26,"v":1.4},{"x":26,"y":26,"v":1.4},{"x":27,"y":26,"v":1.4},{"x":28,"y":26,"v":7.8},{"x":29,"y":26,"v":10.3},{"x":30,"y":26,"v":12.9},{"x":31,"y":26,"v":15.4},{"x":32,"y":26,"v":14.2},{"x":33,"y":26,"v":19.3},{"x":34,"y":26,"v":16.7},{"x":35,"y":26,"v":16.7},{"x":36,"y":26,"v":18},{"x":37,"y":26,"v":21},{"x":38,"y":26,"v":21},{"x":39,"y":26,"v":21},{"x":40,"y":26,"v":21},{"x":41,"y":26,"v":21},{"x":42,"y":26,"v":21},{"x":43,"y":26,"v":21},{"x":44,"y":26,"v":21},{"x":45,"y":26,"v":21},{"x":46,"y":26,"v":21},{"x":47,"y":26,"v":21},
{"x":1,"y":25,"v":21},{"x":2,"y":25,"v":21},{"x":3,"y":25,"v":21},{"x":4,"y":25,"v":21},{"x":5,"y":25,"v":21},{"x":6,"y":25,"v":21},{"x":7,"y":25,"v":21},{"x":8,"y":25,"v":21},{"x":9,"y":25,"v":21},{"x":10,"y":25,"v":21},{"x":11,"y":25,"v":21},{"x":12,"y":25,"v":21},{"x":13,"y":25,"v":19.3},{"x":14,"y":25,"v":16.7},{"x":15,"y":25,"v":14.2},{"x":16,"y":25,"v":15.4},{"x":17,"y":25,"v":12.9},{"x":18,"y":25,"v":10.3},{"x":19,"y":25,"v":12.9},{"x":20,"y":25,"v":10.3},{"x":21,"y":25,"v":6.5},{"x":22,"y":25,"v":7.8},{"x":23,"y":25,"v":7.8},{"x":24,"y":25,"v":1.4},{"x":25,"y":25,"v":1.4},{"x":26,"y":25,"v":1.4},{"x":27,"y":25,"v":6.5},{"x":28,"y":25,"v":10.3},{"x":29,"y":25,"v":12.9},{"x":30,"y":25,"v":14.2},{"x":31,"y":25,"v":18},{"x":32,"y":25,"v":19.3},{"x":33,"y":25,"v":21},{"x":34,"y":25,"v":19.3},{"x":35,"y":25,"v":16.7},{"x":36,"y":25,"v":21},{"x":37,"y":25,"v":21},{"x":38,"y":25,"v":21},{"x":39,"y":25,"v":21},{"x":40,"y":25,"v":21},{"x":41,"y":25,"v":21},{"x":42,"y":25,"v":21},{"x":43,"y":25,"v":21},{"x":44,"y":25,"v":21},{"x":45,"y":25,"v":21},{"x":46,"y":25,"v":21},{"x":47,"y":25,"v":21},
{"x":1,"y":24,"v":21},{"x":2,"y":24,"v":21},{"x":3,"y":24,"v":21},{"x":4,"y":24,"v":21},{"x":5,"y":24,"v":21},{"x":6,"y":24,"v":21},{"x":7,"y":24,"v":21},{"x":8,"y":24,"v":21},{"x":9,"y":24,"v":21},{"x":10,"y":24,"v":21},{"x":11,"y":24,"v":21},{"x":12,"y":24,"v":19.3},{"x":13,"y":24,"v":15.4},{"x":14,"y":24,"v":14.2},{"x":15,"y":24,"v":14.2},{"x":16,"y":24,"v":12.9},{"x":17,"y":24,"v":10.3},{"x":18,"y":24,"v":10.3},{"x":19,"y":24,"v":10.3},{"x":20,"y":24,"v":6.5},{"x":21,"y":24,"v":5.2},{"x":22,"y":24,"v":7.8},{"x":23,"y":24,"v":1.4},{"x":24,"y":24,"v":1.4},{"x":25,"y":24,"v":1.4},{"x":26,"y":24,"v":6.5},{"x":27,"y":24,"v":9},{"x":28,"y":24,"v":12.9},{"x":29,"y":24,"v":12.9},{"x":30,"y":24,"v":14.2},{"x":31,"y":24,"v":18},{"x":32,"y":24,"v":19.3},{"x":33,"y":24,"v":21},{"x":34,"y":24,"v":21},{"x":35,"y":24,"v":19.3},{"x":36,"y":24,"v":21},{"x":37,"y":24,"v":21},{"x":38,"y":24,"v":21},{"x":39,"y":24,"v":21},{"x":40,"y":24,"v":21},{"x":41,"y":24,"v":21},{"x":42,"y":24,"v":21},{"x":43,"y":24,"v":21},{"x":44,"y":24,"v":21},{"x":45,"y":24,"v":21},{"x":46,"y":24,"v":21},{"x":47,"y":24,"v":21},
{"x":1,"y":23,"v":21},{"x":2,"y":23,"v":21},{"x":3,"y":23,"v":21},{"x":4,"y":23,"v":21},{"x":5,"y":23,"v":21},{"x":6,"y":23,"v":21},{"x":7,"y":23,"v":21},{"x":8,"y":23,"v":21},{"x":9,"y":23,"v":21},{"x":10,"y":23,"v":21},{"x":11,"y":23,"v":19.3},{"x":12,"y":23,"v":16.7},{"x":13,"y":23,"v":14.2},{"x":14,"y":23,"v":14.2},{"x":15,"y":23,"v":12.9},{"x":16,"y":23,"v":10.3},{"x":17,"y":23,"v":10.3},{"x":18,"y":23,"v":10.3},{"x":19,"y":23,"v":6.5},{"x":20,"y":23,"v":5.2},{"x":21,"y":23,"v":7.8},{"x":22,"y":23,"v":1.4},{"x":23,"y":23,"v":1.4},{"x":24,"y":23,"v":1.4},{"x":25,"y":23,"v":7.8},{"x":26,"y":23,"v":7.8},{"x":27,"y":23,"v":21},{"x":28,"y":23,"v":12.9},{"x":29,"y":23,"v":14.2},{"x":30,"y":23,"v":15.4},{"x":31,"y":23,"v":19.3},{"x":32,"y":23,"v":19.3},{"x":33,"y":23,"v":21},{"x":34,"y":23,"v":21},{"x":35,"y":23,"v":19.3},{"x":36,"y":23,"v":21},{"x":37,"y":23,"v":21},{"x":38,"y":23,"v":21},{"x":39,"y":23,"v":21},{"x":40,"y":23,"v":21},{"x":41,"y":23,"v":21},{"x":42,"y":23,"v":21},{"x":43,"y":23,"v":21},{"x":44,"y":23,"v":21},{"x":45,"y":23,"v":21},{"x":46,"y":23,"v":21},{"x":47,"y":23,"v":21},
{"x":1,"y":22,"v":21},{"x":2,"y":22,"v":21},{"x":3,"y":22,"v":21},{"x":4,"y":22,"v":21},{"x":5,"y":22,"v":21},{"x":6,"y":22,"v":21},{"x":7,"y":22,"v":21},{"x":8,"y":22,"v":21},{"x":9,"y":22,"v":21},{"x":10,"y":22,"v":19.3},{"x":11,"y":22,"v":15.4},{"x":12,"y":22,"v":14.2},{"x":13,"y":22,"v":14.2},{"x":14,"y":22,"v":12.9},{"x":15,"y":22,"v":10.3},{"x":16,"y":22,"v":10.3},{"x":17,"y":22,"v":10.3},{"x":18,"y":22,"v":6.5},{"x":19,"y":22,"v":5.2},{"x":20,"y":22,"v":7.8},{"x":21,"y":22,"v":1.4},{"x":22,"y":22,"v":1.4},{"x":23,"y":22,"v":1.4},{"x":24,"y":22,"v":7.8},{"x":25,"y":22,"v":7.8},{"x":26,"y":22,"v":6.5},{"x":27,"y":22,"v":5.2},{"x":28,"y":22,"v":10.3},{"x":29,"y":22,"v":10.3},{"x":30,"y":22,"v":12.9},{"x":31,"y":22,"v":14.2},{"x":32,"y":22,"v":14.2},{"x":33,"y":22,"v":19.3},{"x":34,"y":22,"v":19.3},{"x":35,"y":22,"v":14.2},{"x":36,"y":22,"v":19.3},{"x":37,"y":22,"v":21},{"x":38,"y":22,"v":21},{"x":39,"y":22,"v":21},{"x":40,"y":22,"v":21},{"x":41,"y":22,"v":21},{"x":42,"y":22,"v":21},{"x":43,"y":22,"v":21},{"x":44,"y":22,"v":21},{"x":45,"y":22,"v":21},{"x":46,"y":22,"v":21},{"x":47,"y":22,"v":21},
{"x":1,"y":21,"v":21},{"x":2,"y":21,"v":21},{"x":3,"y":21,"v":14.2},{"x":4,"y":21,"v":21},{"x":5,"y":21,"v":19.3},{"x":6,"y":21,"v":21},{"x":7,"y":21,"v":21},{"x":8,"y":21,"v":21},{"x":9,"y":21,"v":19.3},{"x":10,"y":21,"v":16.7},{"x":11,"y":21,"v":15.4},{"x":12,"y":21,"v":14.2},{"x":13,"y":21,"v":12.9},{"x":14,"y":21,"v":10.3},{"x":15,"y":21,"v":10.3},{"x":16,"y":21,"v":10.3},{"x":17,"y":21,"v":6.5},{"x":18,"y":21,"v":5.2},{"x":19,"y":21,"v":7.8},{"x":20,"y":21,"v":1.4},{"x":21,"y":21,"v":1.4},{"x":22,"y":21,"v":1.4},{"x":23,"y":21,"v":7.8},{"x":24,"y":21,"v":5.2},{"x":25,"y":21,"v":6.5},{"x":26,"y":21,"v":6.5},{"x":27,"y":21,"v":5.2},{"x":28,"y":21,"v":5.2},{"x":29,"y":21,"v":7.8},{"x":30,"y":21,"v":10.3},{"x":31,"y":21,"v":12.9},{"x":32,"y":21,"v":12.9},{"x":33,"y":21,"v":14.2},{"x":34,"y":21,"v":14.2},{"x":35,"y":21,"v":14.2},{"x":36,"y":21,"v":19.3},{"x":37,"y":21,"v":21},{"x":38,"y":21,"v":21},{"x":39,"y":21,"v":21},{"x":40,"y":21,"v":21},{"x":41,"y":21,"v":21},{"x":42,"y":21,"v":21},{"x":43,"y":21,"v":21},{"x":44,"y":21,"v":21},{"x":45,"y":21,"v":15.4},{"x":46,"y":21,"v":21},{"x":47,"y":21,"v":21},
{"x":1,"y":20,"v":21},{"x":2,"y":20,"v":21},{"x":3,"y":20,"v":14.2},{"x":4,"y":20,"v":21},{"x":5,"y":20,"v":16.7},{"x":6,"y":20,"v":21},{"x":7,"y":20,"v":21},{"x":8,"y":20,"v":19.3},{"x":9,"y":20,"v":16.7},{"x":10,"y":20,"v":14.2},{"x":11,"y":20,"v":14.2},{"x":12,"y":20,"v":12.9},{"x":13,"y":20,"v":10.3},{"x":14,"y":20,"v":10.3},{"x":15,"y":20,"v":10.3},{"x":16,"y":20,"v":6.5},{"x":17,"y":20,"v":5.2},{"x":18,"y":20,"v":7.8},{"x":19,"y":20,"v":1.4},{"x":20,"y":20,"v":1.4},{"x":21,"y":20,"v":1.4},{"x":22,"y":20,"v":7.8},{"x":23,"y":20,"v":5.2},{"x":24,"y":20,"v":6.5},{"x":25,"y":20,"v":10.3},{"x":26,"y":20,"v":10.3},{"x":27,"y":20,"v":10.3},{"x":28,"y":20,"v":10.3},{"x":29,"y":20,"v":14.2},{"x":30,"y":20,"v":14.2},{"x":31,"y":20,"v":18},{"x":32,"y":20,"v":19.3},{"x":33,"y":20,"v":21},{"x":34,"y":20,"v":19.3},{"x":35,"y":20,"v":14.2},{"x":36,"y":20,"v":21},{"x":37,"y":20,"v":21},{"x":38,"y":20,"v":21},{"x":39,"y":20,"v":21},{"x":40,"y":20,"v":21},{"x":41,"y":20,"v":21},{"x":42,"y":20,"v":21},{"x":43,"y":20,"v":21},{"x":44,"y":20,"v":21},{"x":45,"y":20,"v":14.2},{"x":46,"y":20,"v":16.7},{"x":47,"y":20,"v":21},
{"x":1,"y":19,"v":21},{"x":2,"y":19,"v":21},{"x":3,"y":19,"v":19.3},{"x":4,"y":19,"v":21},{"x":5,"y":19,"v":18},{"x":6,"y":19,"v":19.3},{"x":7,"y":19,"v":19.3},{"x":8,"y":19,"v":16.7},{"x":9,"y":19,"v":14.2},{"x":10,"y":19,"v":14.2},{"x":11,"y":19,"v":12.9},{"x":12,"y":19,"v":10.3},{"x":13,"y":19,"v":10.3},{"x":14,"y":19,"v":10.3},{"x":15,"y":19,"v":6.5},{"x":16,"y":19,"v":5.2},{"x":17,"y":19,"v":7.8},{"x":18,"y":19,"v":1.4},{"x":19,"y":19,"v":1.4},{"x":20,"y":19,"v":1.4},{"x":21,"y":19,"v":7.8},{"x":22,"y":19,"v":5.2},{"x":23,"y":19,"v":6.5},{"x":24,"y":19,"v":10.3},{"x":25,"y":19,"v":12.9},{"x":26,"y":19,"v":10.3},{"x":27,"y":19,"v":10.3},{"x":28,"y":19,"v":10.3},{"x":29,"y":19,"v":14.2},{"x":30,"y":19,"v":12.9},{"x":31,"y":19,"v":18},{"x":32,"y":19,"v":14.2},{"x":33,"y":19,"v":21},{"x":34,"y":19,"v":21},{"x":35,"y":19,"v":14.2},{"x":36,"y":19,"v":21},{"x":37,"y":19,"v":21},{"x":38,"y":19,"v":21},{"x":39,"y":19,"v":21},{"x":40,"y":19,"v":21},{"x":41,"y":19,"v":21},{"x":42,"y":19,"v":21},{"x":43,"y":19,"v":21},{"x":44,"y":19,"v":14.2},{"x":45,"y":19,"v":12.9},{"x":46,"y":19,"v":12.9},{"x":47,"y":19,"v":15.4},
{"x":1,"y":18,"v":21},{"x":2,"y":18,"v":21},{"x":3,"y":18,"v":21},{"x":4,"y":18,"v":19.3},{"x":5,"y":18,"v":12.9},{"x":6,"y":18,"v":18},{"x":7,"y":18,"v":16.7},{"x":8,"y":18,"v":14.2},{"x":9,"y":18,"v":15.4},{"x":10,"y":18,"v":12.9},{"x":11,"y":18,"v":10.3},{"x":12,"y":18,"v":10.3},{"x":13,"y":18,"v":10.3},{"x":14,"y":18,"v":6.5},{"x":15,"y":18,"v":5.2},{"x":16,"y":18,"v":7.8},{"x":17,"y":18,"v":1.4},{"x":18,"y":18,"v":1.4},{"x":19,"y":18,"v":1.4},{"x":20,"y":18,"v":7.8},{"x":21,"y":18,"v":5.2},{"x":22,"y":18,"v":6.5},{"x":23,"y":18,"v":10.3},{"x":24,"y":18,"v":10.3},{"x":25,"y":18,"v":10.3},{"x":26,"y":18,"v":10.3},{"x":27,"y":18,"v":9},{"x":28,"y":18,"v":5.2},{"x":29,"y":18,"v":10.3},{"x":30,"y":18,"v":10.3},{"x":31,"y":18,"v":21},{"x":32,"y":18,"v":21},{"x":33,"y":18,"v":12.9},{"x":34,"y":18,"v":12.9},{"x":35,"y":18,"v":21},{"x":36,"y":18,"v":14.2},{"x":37,"y":18,"v":14.2},{"x":38,"y":18,"v":15.4},{"x":39,"y":18,"v":21},{"x":40,"y":18,"v":21},{"x":41,"y":18,"v":21},{"x":42,"y":18,"v":21},{"x":43,"y":18,"v":15.4},{"x":44,"y":18,"v":14.2},{"x":45,"y":18,"v":21},{"x":46,"y":18,"v":12.9},{"x":47,"y":18,"v":21},
{"x":1,"y":17,"v":12.9},{"x":2,"y":17,"v":12.9},{"x":3,"y":17,"v":10.3},{"x":4,"y":17,"v":16.7},{"x":5,"y":17,"v":12.9},{"x":6,"y":17,"v":16.7},{"x":7,"y":17,"v":14.2},{"x":8,"y":17,"v":15.4},{"x":9,"y":17,"v":12.9},{"x":10,"y":17,"v":10.3},{"x":11,"y":17,"v":10.3},{"x":12,"y":17,"v":10.3},{"x":13,"y":17,"v":6.5},{"x":14,"y":17,"v":5.2},{"x":15,"y":17,"v":7.8},{"x":16,"y":17,"v":1.4},{"x":17,"y":17,"v":1.4},{"x":18,"y":17,"v":1.4},{"x":19,"y":17,"v":7.8},{"x":20,"y":17,"v":5.2},{"x":21,"y":17,"v":6.5},{"x":22,"y":17,"v":10.3},{"x":23,"y":17,"v":10.3},{"x":24,"y":17,"v":10.3},{"x":25,"y":17,"v":12.9},{"x":26,"y":17,"v":12.9},{"x":27,"y":17,"v":10.3},{"x":28,"y":17,"v":9},{"x":29,"y":17,"v":10.3},{"x":30,"y":17,"v":10.3},{"x":31,"y":17,"v":21},{"x":32,"y":17,"v":21},{"x":33,"y":17,"v":14.2},{"x":34,"y":17,"v":12.9},{"x":35,"y":17,"v":21},{"x":36,"y":17,"v":14.2},{"x":37,"y":17,"v":15.4},{"x":38,"y":17,"v":21},{"x":39,"y":17,"v":21},{"x":40,"y":17,"v":21},{"x":41,"y":17,"v":21},{"x":42,"y":17,"v":21},{"x":43,"y":17,"v":16.7},{"x":44,"y":17,"v":14.2},{"x":45,"y":17,"v":12.9},{"x":46,"y":17,"v":14.2},{"x":47,"y":17,"v":21},
{"x":1,"y":16,"v":21},{"x":2,"y":16,"v":18},{"x":3,"y":16,"v":14.2},{"x":4,"y":16,"v":16.7},{"x":5,"y":16,"v":12.9},{"x":6,"y":16,"v":15.4},{"x":7,"y":16,"v":15.4},{"x":8,"y":16,"v":12.9},{"x":9,"y":16,"v":10.3},{"x":10,"y":16,"v":10.3},{"x":11,"y":16,"v":10.3},{"x":12,"y":16,"v":6.5},{"x":13,"y":16,"v":5.2},{"x":14,"y":16,"v":7.8},{"x":15,"y":16,"v":1.4},{"x":16,"y":16,"v":1.4},{"x":17,"y":16,"v":1.4},{"x":18,"y":16,"v":7.8},{"x":19,"y":16,"v":5.2},{"x":20,"y":16,"v":6.5},{"x":21,"y":16,"v":10.3},{"x":22,"y":16,"v":10.3},{"x":23,"y":16,"v":10.3},{"x":24,"y":16,"v":12.9},{"x":25,"y":16,"v":14.2},{"x":26,"y":16,"v":15.4},{"x":27,"y":16,"v":14.2},{"x":28,"y":16,"v":12.9},{"x":29,"y":16,"v":14.2},{"x":30,"y":16,"v":12.9},{"x":31,"y":16,"v":18},{"x":32,"y":16,"v":14.2},{"x":33,"y":16,"v":21},{"x":34,"y":16,"v":21},{"x":35,"y":16,"v":12.9},{"x":36,"y":16,"v":21},{"x":37,"y":16,"v":21},{"x":38,"y":16,"v":21},{"x":39,"y":16,"v":21},{"x":40,"y":16,"v":21},{"x":41,"y":16,"v":21},{"x":42,"y":16,"v":21},{"x":43,"y":16,"v":21},{"x":44,"y":16,"v":14.2},{"x":45,"y":16,"v":21},{"x":46,"y":16,"v":14.2},{"x":47,"y":16,"v":14.2},
{"x":1,"y":15,"v":21},{"x":2,"y":15,"v":19.3},{"x":3,"y":15,"v":14.2},{"x":4,"y":15,"v":16.7},{"x":5,"y":15,"v":12.9},{"x":6,"y":15,"v":14.2},{"x":7,"y":15,"v":12.9},{"x":8,"y":15,"v":10.3},{"x":9,"y":15,"v":10.3},{"x":10,"y":15,"v":10.3},{"x":11,"y":15,"v":6.5},{"x":12,"y":15,"v":5.2},{"x":13,"y":15,"v":7.8},{"x":14,"y":15,"v":1.4},{"x":15,"y":15,"v":1.4},{"x":16,"y":15,"v":1.4},{"x":17,"y":15,"v":7.8},{"x":18,"y":15,"v":5.2},{"x":19,"y":15,"v":6.5},{"x":20,"y":15,"v":10.3},{"x":21,"y":15,"v":10.3},{"x":22,"y":15,"v":10.3},{"x":23,"y":15,"v":12.9},{"x":24,"y":15,"v":14.2},{"x":25,"y":15,"v":14.2},{"x":26,"y":15,"v":16.7},{"x":27,"y":15,"v":14.2},{"x":28,"y":15,"v":10.3},{"x":29,"y":15,"v":14.2},{"x":30,"y":15,"v":21},{"x":31,"y":15,"v":14.2},{"x":32,"y":15,"v":21},{"x":33,"y":15,"v":15.4},{"x":34,"y":15,"v":14.2},{"x":35,"y":15,"v":21},{"x":36,"y":15,"v":12.9},{"x":37,"y":15,"v":12.9},{"x":38,"y":15,"v":14.2},{"x":39,"y":15,"v":15.4},{"x":40,"y":15,"v":15.4},{"x":41,"y":15,"v":14.2},{"x":42,"y":15,"v":14.2},{"x":43,"y":15,"v":21},{"x":44,"y":15,"v":9},{"x":45,"y":15,"v":5.2},{"x":46,"y":15,"v":9},{"x":47,"y":15,"v":10.3},
{"x":1,"y":14,"v":16.7},{"x":2,"y":14,"v":14.2},{"x":3,"y":14,"v":12.9},{"x":4,"y":14,"v":15.4},{"x":5,"y":14,"v":10.3},{"x":6,"y":14,"v":12.9},{"x":7,"y":14,"v":10.3},{"x":8,"y":14,"v":10.3},{"x":9,"y":14,"v":10.3},{"x":10,"y":14,"v":6.5},{"x":11,"y":14,"v":5.2},{"x":12,"y":14,"v":7.8},{"x":13,"y":14,"v":1.4},{"x":14,"y":14,"v":1.4},{"x":15,"y":14,"v":1.4},{"x":16,"y":14,"v":7.8},{"x":17,"y":14,"v":5.2},{"x":18,"y":14,"v":6.5},{"x":19,"y":14,"v":10.3},{"x":20,"y":14,"v":10.3},{"x":21,"y":14,"v":10.3},{"x":22,"y":14,"v":12.9},{"x":23,"y":14,"v":14.2},{"x":24,"y":14,"v":14.2},{"x":25,"y":14,"v":16.7},{"x":26,"y":14,"v":16.7},{"x":27,"y":14,"v":14.2},{"x":28,"y":14,"v":10.3},{"x":29,"y":14,"v":10.3},{"x":30,"y":14,"v":10.3},{"x":31,"y":14,"v":21},{"x":32,"y":14,"v":10.3},{"x":33,"y":14,"v":21},{"x":34,"y":14,"v":21},{"x":35,"y":14,"v":21},{"x":36,"y":14,"v":21},{"x":37,"y":14,"v":21},{"x":38,"y":14,"v":21},{"x":39,"y":14,"v":14.2},{"x":40,"y":14,"v":14.2},{"x":41,"y":14,"v":14.2},{"x":42,"y":14,"v":14.2},{"x":43,"y":14,"v":12.9},{"x":44,"y":14,"v":9},{"x":45,"y":14,"v":7.8},{"x":46,"y":14,"v":10.3},{"x":47,"y":14,"v":21},
{"x":1,"y":13,"v":14.2},{"x":2,"y":13,"v":14.2},{"x":3,"y":13,"v":21},{"x":4,"y":13,"v":10.3},{"x":5,"y":13,"v":7.8},{"x":6,"y":13,"v":10.3},{"x":7,"y":13,"v":10.3},{"x":8,"y":13,"v":10.3},{"x":9,"y":13,"v":6.5},{"x":10,"y":13,"v":5.2},{"x":11,"y":13,"v":7.8},{"x":12,"y":13,"v":1.4},{"x":13,"y":13,"v":1.4},{"x":14,"y":13,"v":1.4},{"x":15,"y":13,"v":7.8},{"x":16,"y":13,"v":5.2},{"x":17,"y":13,"v":6.5},{"x":18,"y":13,"v":10.3},{"x":19,"y":13,"v":10.3},{"x":20,"y":13,"v":10.3},{"x":21,"y":13,"v":12.9},{"x":22,"y":13,"v":14.2},{"x":23,"y":13,"v":14.2},{"x":24,"y":13,"v":15.4},{"x":25,"y":13,"v":19.3},{"x":26,"y":13,"v":19.3},{"x":27,"y":13,"v":18},{"x":28,"y":13,"v":14.2},{"x":29,"y":13,"v":14.2},{"x":30,"y":13,"v":14.2},{"x":31,"y":13,"v":14.2},{"x":32,"y":13,"v":14.2},{"x":33,"y":13,"v":14.2},{"x":34,"y":13,"v":14.2},{"x":35,"y":13,"v":21},{"x":36,"y":13,"v":14.2},{"x":37,"y":13,"v":14.2},{"x":38,"y":13,"v":14.2},{"x":39,"y":13,"v":21},{"x":40,"y":13,"v":21},{"x":41,"y":13,"v":21},{"x":42,"y":13,"v":21},{"x":43,"y":13,"v":14.2},{"x":44,"y":13,"v":21},{"x":45,"y":13,"v":21},{"x":46,"y":13,"v":14.2},{"x":47,"y":13,"v":15.4},
{"x":1,"y":12,"v":19.3},{"x":2,"y":12,"v":18},{"x":3,"y":12,"v":14.2},{"x":4,"y":12,"v":14.2},{"x":5,"y":12,"v":21},{"x":6,"y":12,"v":9},{"x":7,"y":12,"v":10.3},{"x":8,"y":12,"v":6.5},{"x":9,"y":12,"v":5.2},{"x":10,"y":12,"v":7.8},{"x":11,"y":12,"v":1.4},{"x":12,"y":12,"v":1.4},{"x":13,"y":12,"v":1.4},{"x":14,"y":12,"v":7.8},{"x":15,"y":12,"v":5.2},{"x":16,"y":12,"v":6.5},{"x":17,"y":12,"v":10.3},{"x":18,"y":12,"v":10.3},{"x":19,"y":12,"v":10.3},{"x":20,"y":12,"v":12.9},{"x":21,"y":12,"v":14.2},{"x":22,"y":12,"v":14.2},{"x":23,"y":12,"v":16.7},{"x":24,"y":12,"v":19.3},{"x":25,"y":12,"v":21},{"x":26,"y":12,"v":21},{"x":27,"y":12,"v":19.3},{"x":28,"y":12,"v":14.2},{"x":29,"y":12,"v":18},{"x":30,"y":12,"v":14.2},{"x":31,"y":12,"v":21},{"x":32,"y":12,"v":21},{"x":33,"y":12,"v":21},{"x":34,"y":12,"v":21},{"x":35,"y":12,"v":12.9},{"x":36,"y":12,"v":14.2},{"x":37,"y":12,"v":14.2},{"x":38,"y":12,"v":12.9},{"x":39,"y":12,"v":15.4},{"x":40,"y":12,"v":14.2},{"x":41,"y":12,"v":14.2},{"x":42,"y":12,"v":12.9},{"x":43,"y":12,"v":21},{"x":44,"y":12,"v":21},{"x":45,"y":12,"v":7.8},{"x":46,"y":12,"v":10.3},{"x":47,"y":12,"v":21},
{"x":1,"y":11,"v":19.3},{"x":2,"y":11,"v":16.7},{"x":3,"y":11,"v":14.2},{"x":4,"y":11,"v":14.2},{"x":5,"y":11,"v":21},{"x":6,"y":11,"v":9},{"x":7,"y":11,"v":6.5},{"x":8,"y":11,"v":5.2},{"x":9,"y":11,"v":7.8},{"x":10,"y":11,"v":1.4},{"x":11,"y":11,"v":1.4},{"x":12,"y":11,"v":1.4},{"x":13,"y":11,"v":7.8},{"x":14,"y":11,"v":5.2},{"x":15,"y":11,"v":6.5},{"x":16,"y":11,"v":10.3},{"x":17,"y":11,"v":10.3},{"x":18,"y":11,"v":10.3},{"x":19,"y":11,"v":12.9},{"x":20,"y":11,"v":14.2},{"x":21,"y":11,"v":14.2},{"x":22,"y":11,"v":16.7},{"x":23,"y":11,"v":19.3},{"x":24,"y":11,"v":21},{"x":25,"y":11,"v":21},{"x":26,"y":11,"v":21},{"x":27,"y":11,"v":19.3},{"x":28,"y":11,"v":14.2},{"x":29,"y":11,"v":18},{"x":30,"y":11,"v":14.2},{"x":31,"y":11,"v":15.4},{"x":32,"y":11,"v":12.9},{"x":33,"y":11,"v":14.2},{"x":34,"y":11,"v":12.9},{"x":35,"y":11,"v":10.3},{"x":36,"y":11,"v":10.3},{"x":37,"y":11,"v":12.9},{"x":38,"y":11,"v":21},{"x":39,"y":11,"v":21},{"x":40,"y":11,"v":12.9},{"x":41,"y":11,"v":10.3},{"x":42,"y":11,"v":10.3},{"x":43,"y":11,"v":9},{"x":44,"y":11,"v":5.2},{"x":45,"y":11,"v":5.2},{"x":46,"y":11,"v":10.3},{"x":47,"y":11,"v":10.3},
{"x":1,"y":10,"v":14.2},{"x":2,"y":10,"v":12.9},{"x":3,"y":10,"v":21},{"x":4,"y":10,"v":9},{"x":5,"y":10,"v":5.2},{"x":6,"y":10,"v":6.5},{"x":7,"y":10,"v":5.2},{"x":8,"y":10,"v":7.8},{"x":9,"y":10,"v":1.4},{"x":10,"y":10,"v":1.4},{"x":11,"y":10,"v":1.4},{"x":12,"y":10,"v":7.8},{"x":13,"y":10,"v":5.2},{"x":14,"y":10,"v":6.5},{"x":15,"y":10,"v":10.3},{"x":16,"y":10,"v":10.3},{"x":17,"y":10,"v":10.3},{"x":18,"y":10,"v":12.9},{"x":19,"y":10,"v":14.2},{"x":20,"y":10,"v":14.2},{"x":21,"y":10,"v":15.4},{"x":22,"y":10,"v":19.3},{"x":23,"y":10,"v":21},{"x":24,"y":10,"v":21},{"x":25,"y":10,"v":21},{"x":26,"y":10,"v":21},{"x":27,"y":10,"v":21},{"x":28,"y":10,"v":19.3},{"x":29,"y":10,"v":21},{"x":30,"y":10,"v":14.2},{"x":31,"y":10,"v":14.2},{"x":32,"y":10,"v":14.2},{"x":33,"y":10,"v":14.2},{"x":34,"y":10,"v":21},{"x":35,"y":10,"v":10.3},{"x":36,"y":10,"v":10.3},{"x":37,"y":10,"v":21},{"x":38,"y":10,"v":21},{"x":39,"y":10,"v":21},{"x":40,"y":10,"v":12.9},{"x":41,"y":10,"v":14.2},{"x":42,"y":10,"v":12.9},{"x":43,"y":10,"v":21},{"x":44,"y":10,"v":21},{"x":45,"y":10,"v":10.3},{"x":46,"y":10,"v":21},{"x":47,"y":10,"v":14.2},
{"x":1,"y":9,"v":15.4},{"x":2,"y":9,"v":14.2},{"x":3,"y":9,"v":10.3},{"x":4,"y":9,"v":10.3},{"x":5,"y":9,"v":6.5},{"x":6,"y":9,"v":3.9},{"x":7,"y":9,"v":7.8},{"x":8,"y":9,"v":1.4},{"x":9,"y":9,"v":1.4},{"x":10,"y":9,"v":1.4},{"x":11,"y":9,"v":7.8},{"x":12,"y":9,"v":5.2},{"x":13,"y":9,"v":6.5},{"x":14,"y":9,"v":10.3},{"x":15,"y":9,"v":10.3},{"x":16,"y":9,"v":10.3},{"x":17,"y":9,"v":12.9},{"x":18,"y":9,"v":14.2},{"x":19,"y":9,"v":14.2},{"x":20,"y":9,"v":16.7},{"x":21,"y":9,"v":19.3},{"x":22,"y":9,"v":21},{"x":23,"y":9,"v":21},{"x":24,"y":9,"v":21},{"x":25,"y":9,"v":21},{"x":26,"y":9,"v":21},{"x":27,"y":9,"v":21},{"x":28,"y":9,"v":21},{"x":29,"y":9,"v":21},{"x":30,"y":9,"v":21},{"x":31,"y":9,"v":21},{"x":32,"y":9,"v":21},{"x":33,"y":9,"v":21},{"x":34,"y":9,"v":21},{"x":35,"y":9,"v":12.9},{"x":36,"y":9,"v":14.2},{"x":37,"y":9,"v":14.2},{"x":38,"y":9,"v":12.9},{"x":39,"y":9,"v":14.2},{"x":40,"y":9,"v":14.2},{"x":41,"y":9,"v":14.2},{"x":42,"y":9,"v":14.2},{"x":43,"y":9,"v":21},{"x":44,"y":9,"v":12.9},{"x":45,"y":9,"v":21},{"x":46,"y":9,"v":12.9},{"x":47,"y":9,"v":15.4},
{"x":1,"y":8,"v":19.3},{"x":2,"y":8,"v":16.7},{"x":3,"y":8,"v":14.2},{"x":4,"y":8,"v":14.2},{"x":5,"y":8,"v":21},{"x":6,"y":8,"v":5.2},{"x":7,"y":8,"v":1.4},{"x":8,"y":8,"v":1.4},{"x":9,"y":8,"v":1.4},{"x":10,"y":8,"v":7.8},{"x":11,"y":8,"v":5.2},{"x":12,"y":8,"v":6.5},{"x":13,"y":8,"v":10.3},{"x":14,"y":8,"v":10.3},{"x":15,"y":8,"v":10.3},{"x":16,"y":8,"v":12.9},{"x":17,"y":8,"v":14.2},{"x":18,"y":8,"v":14.2},{"x":19,"y":8,"v":15.4},{"x":20,"y":8,"v":19.3},{"x":21,"y":8,"v":21},{"x":22,"y":8,"v":21},{"x":23,"y":8,"v":21},{"x":24,"y":8,"v":21},{"x":25,"y":8,"v":21},{"x":26,"y":8,"v":21},{"x":27,"y":8,"v":21},{"x":28,"y":8,"v":21},{"x":29,"y":8,"v":21},{"x":30,"y":8,"v":21},{"x":31,"y":8,"v":21},{"x":32,"y":8,"v":21},{"x":33,"y":8,"v":21},{"x":34,"y":8,"v":21},{"x":35,"y":8,"v":14.2},{"x":36,"y":8,"v":12.9},{"x":37,"y":8,"v":21},{"x":38,"y":8,"v":21},{"x":39,"y":8,"v":21},{"x":40,"y":8,"v":21},{"x":41,"y":8,"v":12.9},{"x":42,"y":8,"v":21},{"x":43,"y":8,"v":10.3},{"x":44,"y":8,"v":21},{"x":45,"y":8,"v":10.3},{"x":46,"y":8,"v":10.3},{"x":47,"y":8,"v":14.2},
{"x":1,"y":7,"v":19.3},{"x":2,"y":7,"v":14.2},{"x":3,"y":7,"v":12.9},{"x":4,"y":7,"v":10.3},{"x":5,"y":7,"v":7.8},{"x":6,"y":7,"v":1.4},{"x":7,"y":7,"v":1.4},{"x":8,"y":7,"v":1.4},{"x":9,"y":7,"v":7.8},{"x":10,"y":7,"v":5.2},{"x":11,"y":7,"v":6.5},{"x":12,"y":7,"v":10.3},{"x":13,"y":7,"v":10.3},{"x":14,"y":7,"v":10.3},{"x":15,"y":7,"v":12.9},{"x":16,"y":7,"v":14.2},{"x":17,"y":7,"v":14.2},{"x":18,"y":7,"v":15.4},{"x":19,"y":7,"v":19.3},{"x":20,"y":7,"v":21},{"x":21,"y":7,"v":21},{"x":22,"y":7,"v":21},{"x":23,"y":7,"v":21},{"x":24,"y":7,"v":21},{"x":25,"y":7,"v":21},{"x":26,"y":7,"v":21},{"x":27,"y":7,"v":21},{"x":28,"y":7,"v":21},{"x":29,"y":7,"v":21},{"x":30,"y":7,"v":21},{"x":31,"y":7,"v":21},{"x":32,"y":7,"v":21},{"x":33,"y":7,"v":21},{"x":34,"y":7,"v":12.9},{"x":35,"y":7,"v":21},{"x":36,"y":7,"v":10.3},{"x":37,"y":7,"v":10.3},{"x":38,"y":7,"v":21},{"x":39,"y":7,"v":10.3},{"x":40,"y":7,"v":21},{"x":41,"y":7,"v":21},{"x":42,"y":7,"v":10.3},{"x":43,"y":7,"v":9},{"x":44,"y":7,"v":21},{"x":45,"y":7,"v":10.3},{"x":46,"y":7,"v":12.9},{"x":47,"y":7,"v":12.9},
{"x":1,"y":6,"v":16.7},{"x":2,"y":6,"v":14.2},{"x":3,"y":6,"v":12.9},{"x":4,"y":6,"v":7.8},{"x":5,"y":6,"v":1.4},{"x":6,"y":6,"v":1.4},{"x":7,"y":6,"v":1.4},{"x":8,"y":6,"v":5.2},{"x":9,"y":6,"v":3.9},{"x":10,"y":6,"v":6.5},{"x":11,"y":6,"v":9},{"x":12,"y":6,"v":9},{"x":13,"y":6,"v":10.3},{"x":14,"y":6,"v":14.2},{"x":15,"y":6,"v":14.2},{"x":16,"y":6,"v":15.4},{"x":17,"y":6,"v":16.7},{"x":18,"y":6,"v":16.7},{"x":19,"y":6,"v":19.3},{"x":20,"y":6,"v":21},{"x":21,"y":6,"v":21},{"x":22,"y":6,"v":21},{"x":23,"y":6,"v":21},{"x":24,"y":6,"v":21},{"x":25,"y":6,"v":21},{"x":26,"y":6,"v":21},{"x":27,"y":6,"v":21},{"x":28,"y":6,"v":21},{"x":29,"y":6,"v":21},{"x":30,"y":6,"v":21},{"x":31,"y":6,"v":21},{"x":32,"y":6,"v":21},{"x":33,"y":6,"v":21},{"x":34,"y":6,"v":21},{"x":35,"y":6,"v":14.2},{"x":36,"y":6,"v":14.2},{"x":37,"y":6,"v":14.2},{"x":38,"y":6,"v":21},{"x":39,"y":6,"v":14.2},{"x":40,"y":6,"v":14.2},{"x":41,"y":6,"v":14.2},{"x":42,"y":6,"v":14.2},{"x":43,"y":6,"v":21},{"x":44,"y":6,"v":21},{"x":45,"y":6,"v":14.2},{"x":46,"y":6,"v":14.2},{"x":47,"y":6,"v":21},
{"x":1,"y":5,"v":12.9},{"x":2,"y":5,"v":10.3},{"x":3,"y":5,"v":6.5},{"x":4,"y":5,"v":1.4},{"x":5,"y":5,"v":1.4},{"x":6,"y":5,"v":1.4},{"x":7,"y":5,"v":7.8},{"x":8,"y":5,"v":21},{"x":9,"y":5,"v":6.5},{"x":10,"y":5,"v":5.2},{"x":11,"y":5,"v":21},{"x":12,"y":5,"v":21},{"x":13,"y":5,"v":7.8},{"x":14,"y":5,"v":10.3},{"x":15,"y":5,"v":12.9},{"x":16,"y":5,"v":12.9},{"x":17,"y":5,"v":12.9},{"x":18,"y":5,"v":12.9},{"x":19,"y":5,"v":16.7},{"x":20,"y":5,"v":16.7},{"x":21,"y":5,"v":19.3},{"x":22,"y":5,"v":21},{"x":23,"y":5,"v":21},{"x":24,"y":5,"v":21},{"x":25,"y":5,"v":21},{"x":26,"y":5,"v":21},{"x":27,"y":5,"v":21},{"x":28,"y":5,"v":21},{"x":29,"y":5,"v":21},{"x":30,"y":5,"v":21},{"x":31,"y":5,"v":21},{"x":32,"y":5,"v":14.2},{"x":33,"y":5,"v":21},{"x":34,"y":5,"v":21},{"x":35,"y":5,"v":21},{"x":36,"y":5,"v":21},{"x":37,"y":5,"v":21},{"x":38,"y":5,"v":21},{"x":39,"y":5,"v":14.2},{"x":40,"y":5,"v":14.2},{"x":41,"y":5,"v":15.4},{"x":42,"y":5,"v":15.4},{"x":43,"y":5,"v":14.2},{"x":44,"y":5,"v":21},{"x":45,"y":5,"v":14.2},{"x":46,"y":5,"v":14.2},{"x":47,"y":5,"v":21},
{"x":1,"y":4,"v":12.9},{"x":2,"y":4,"v":7.8},{"x":3,"y":4,"v":1.4},{"x":4,"y":4,"v":1.4},{"x":5,"y":4,"v":1.4},{"x":6,"y":4,"v":7.8},{"x":7,"y":4,"v":10.3},{"x":8,"y":4,"v":12.9},{"x":9,"y":4,"v":10.3},{"x":10,"y":4,"v":9},{"x":11,"y":4,"v":14.2},{"x":12,"y":4,"v":14.2},{"x":13,"y":4,"v":10.3},{"x":14,"y":4,"v":14.2},{"x":15,"y":4,"v":16.7},{"x":16,"y":4,"v":16.7},{"x":17,"y":4,"v":16.7},{"x":18,"y":4,"v":18},{"x":19,"y":4,"v":21},{"x":20,"y":4,"v":21},{"x":21,"y":4,"v":21},{"x":22,"y":4,"v":21},{"x":23,"y":4,"v":21},{"x":24,"y":4,"v":21},{"x":25,"y":4,"v":21},{"x":26,"y":4,"v":21},{"x":27,"y":4,"v":21},{"x":28,"y":4,"v":21},{"x":29,"y":4,"v":21},{"x":30,"y":4,"v":21},{"x":31,"y":4,"v":21},{"x":32,"y":4,"v":21},{"x":33,"y":4,"v":21},{"x":34,"y":4,"v":21},{"x":35,"y":4,"v":21},{"x":36,"y":4,"v":21},{"x":37,"y":4,"v":14.2},{"x":38,"y":4,"v":14.2},{"x":39,"y":4,"v":14.2},{"x":40,"y":4,"v":21},{"x":41,"y":4,"v":21},{"x":42,"y":4,"v":21},{"x":43,"y":4,"v":15.4},{"x":44,"y":4,"v":14.2},{"x":45,"y":4,"v":21},{"x":46,"y":4,"v":21},{"x":47,"y":4,"v":21},
{"x":1,"y":3,"v":7.8},{"x":2,"y":3,"v":1.4},{"x":3,"y":3,"v":1.4},{"x":4,"y":3,"v":1.4},{"x":5,"y":3,"v":6.5},{"x":6,"y":3,"v":12.9},{"x":7,"y":3,"v":12.9},{"x":8,"y":3,"v":14.2},{"x":9,"y":3,"v":10.3},{"x":10,"y":3,"v":21},{"x":11,"y":3,"v":14.2},{"x":12,"y":3,"v":14.2},{"x":13,"y":3,"v":21},{"x":14,"y":3,"v":10.3},{"x":15,"y":3,"v":15.4},{"x":16,"y":3,"v":14.2},{"x":17,"y":3,"v":10.3},{"x":18,"y":3,"v":21},{"x":19,"y":3,"v":19.3},{"x":20,"y":3,"v":14.2},{"x":21,"y":3,"v":14.2},{"x":22,"y":3,"v":21},{"x":23,"y":3,"v":21},{"x":24,"y":3,"v":21},{"x":25,"y":3,"v":21},{"x":26,"y":3,"v":21},{"x":27,"y":3,"v":21},{"x":28,"y":3,"v":21},{"x":29,"y":3,"v":21},{"x":30,"y":3,"v":21},{"x":31,"y":3,"v":21},{"x":32,"y":3,"v":21},{"x":33,"y":3,"v":14.2},{"x":34,"y":3,"v":21},{"x":35,"y":3,"v":21},{"x":36,"y":3,"v":14.2},{"x":37,"y":3,"v":21},{"x":38,"y":3,"v":21},{"x":39,"y":3,"v":21},{"x":40,"y":3,"v":21},{"x":41,"y":3,"v":21},{"x":42,"y":3,"v":21},{"x":43,"y":3,"v":21},{"x":44,"y":3,"v":21},{"x":45,"y":3,"v":21},{"x":46,"y":3,"v":21},{"x":47,"y":3,"v":21},
{"x":1,"y":2,"v":1.4},{"x":2,"y":2,"v":1.4},{"x":3,"y":2,"v":1.4},{"x":4,"y":2,"v":7.8},{"x":5,"y":2,"v":10.3},{"x":6,"y":2,"v":14.2},{"x":7,"y":2,"v":15.4},{"x":8,"y":2,"v":16.7},{"x":9,"y":2,"v":15.4},{"x":10,"y":2,"v":12.9},{"x":11,"y":2,"v":16.7},{"x":12,"y":2,"v":16.7},{"x":13,"y":2,"v":14.2},{"x":14,"y":2,"v":14.2},{"x":15,"y":2,"v":19.3},{"x":16,"y":2,"v":16.7},{"x":17,"y":2,"v":12.9},{"x":18,"y":2,"v":21},{"x":19,"y":2,"v":21},{"x":20,"y":2,"v":21},{"x":21,"y":2,"v":21},{"x":22,"y":2,"v":21},{"x":23,"y":2,"v":21},{"x":24,"y":2,"v":21},{"x":25,"y":2,"v":21},{"x":26,"y":2,"v":21},{"x":27,"y":2,"v":21},{"x":28,"y":2,"v":21},{"x":29,"y":2,"v":21},{"x":30,"y":2,"v":21},{"x":31,"y":2,"v":14.2},{"x":32,"y":2,"v":21},{"x":33,"y":2,"v":21},{"x":34,"y":2,"v":21},{"x":35,"y":2,"v":21},{"x":36,"y":2,"v":21},{"x":37,"y":2,"v":21},{"x":38,"y":2,"v":21},{"x":39,"y":2,"v":21},{"x":40,"y":2,"v":21},{"x":41,"y":2,"v":21},{"x":42,"y":2,"v":21},{"x":43,"y":2,"v":21},{"x":44,"y":2,"v":21},{"x":45,"y":2,"v":21},{"x":46,"y":2,"v":21},{"x":47,"y":2,"v":21},
{"x":1,"y":1,"v":1.4},{"x":2,"y":1,"v":1.4},{"x":3,"y":1,"v":7.8},{"x":4,"y":1,"v":12.9},{"x":5,"y":1,"v":12.9},{"x":6,"y":1,"v":16.7},{"x":7,"y":1,"v":19.3},{"x":8,"y":1,"v":19.3},{"x":9,"y":1,"v":16.7},{"x":10,"y":1,"v":14.2},{"x":11,"y":1,"v":19.3},{"x":12,"y":1,"v":19.3},{"x":13,"y":1,"v":14.2},{"x":14,"y":1,"v":16.7},{"x":15,"y":1,"v":21},{"x":16,"y":1,"v":21},{"x":17,"y":1,"v":12.9},{"x":18,"y":1,"v":21},{"x":19,"y":1,"v":21},{"x":20,"y":1,"v":21},{"x":21,"y":1,"v":21},{"x":22,"y":1,"v":21},{"x":23,"y":1,"v":21},{"x":24,"y":1,"v":21},{"x":25,"y":1,"v":21},{"x":26,"y":1,"v":21},{"x":27,"y":1,"v":21},{"x":28,"y":1,"v":21},{"x":29,"y":1,"v":21},{"x":30,"y":1,"v":21},{"x":31,"y":1,"v":21},{"x":32,"y":1,"v":21},{"x":33,"y":1,"v":21},{"x":34,"y":1,"v":21},{"x":35,"y":1,"v":21},{"x":36,"y":1,"v":21},{"x":37,"y":1,"v":21},{"x":38,"y":1,"v":21},{"x":39,"y":1,"v":21},{"x":40,"y":1,"v":21},{"x":41,"y":1,"v":21},{"x":42,"y":1,"v":21},{"x":43,"y":1,"v":21},{"x":44,"y":1,"v":21},{"x":45,"y":1,"v":21},{"x":46,"y":1,"v":21},{"x":47,"y":1,"v":21}
]},"layer":[{"mark":{"type":"rect","strokeWidth":1},"encoding":{"x":{"field":"x","type":"ordinal","scale":{"domain":[1,2,3,4,5,6,7,8,9,10,11,12,13,14,15,16,17,18,19,20,21,22,23,24,25,26,27,28,29,30,31,32,33,34,35,36,37,38,39,40,41,42,43,44,45,46,47],"paddingInner":0,"paddingOuter":0},"axis":{"zindex":1,"values":[10,20,30,40],"orient":"bottom","title":"Residue index","titleFont":"Liberation Sans","titleFontWeight":"bold","titleFontSize":60,"titlePadding":-2,"labelFont":"Liberation Sans","labelFontWeight":"bold","labelFontSize":60,"labelAngle":0,"labelPadding":0,"tickSize":6,"tickWidth":6}},"y":{"field":"y","type":"ordinal","sort":"descending","scale":{"domain":[47,46,45,44,43,42,41,40,39,38,37,36,35,34,33,32,31,30,29,28,27,26,25,24,23,22,21,20,19,18,17,16,15,14,13,12,11,10,9,8,7,6,5,4,3,2,1],"paddingInner":0,"paddingOuter":0},"axis":{"zindex":1,"values":[10,20,30,40],"orient":"left","title":"Residue index","titleFont":"Liberation Sans","titleFontWeight":"bold","titleFontSize":60,"titlePadding":3,"labelFont":"Liberation Sans","labelFontWeight":"bold","labelFontSize":60,"labelAngle":0,"labelPadding":2,"tickSize":6,"tickWidth":6}},"fill":{"field":"v","type":"quantitative","legend":null,"scale":{"type":"threshold","domain":[2.01,3.29,4.57,5.85,7.13,8.41,9.69,10.97,12.25,13.53,14.81,16.09,17.37,18.65,19.93],"range":["#ff0000","#ff2000","#ff4500","#ff6000","#ff8800","#ffa500","#a6c080","#9fba86","#95b38b","#8bab91","#80a39b","#7a9da2","#6f97ab","#6490b3","#5585bb","#0000ff"]}},"stroke":{"field":"v","type":"quantitative","legend":null,"scale":{"type":"threshold","domain":[2.01,3.29,4.57,5.85,7.13,8.41,9.69,10.97,12.25,13.53,14.81,16.09,17.37,18.65,19.93],"range":["#ff0000","#ff2000","#ff4500","#ff6000","#ff8800","#ffa500","#a6c080","#9fba86","#95b38b","#8bab91","#80a39b","#7a9da2","#6f97ab","#6490b3","#5585bb","#0000ff"]}}}},{"transform":[{"filter":"datum.x==1&&datum.y==1"}],"mark":{"type":"rect","strokeWidth":1},"encoding":{"x":{"field":"x","type":"ordinal","axis":{"zindex":1,"values":[10,20,30,40],"orient":"top","title":null,"labels":false,"tickSize":6,"tickWidth":6}},"y":{"field":"y","type":"ordinal","sort":"descending","axis":{"zindex":1,"values":[10,20,30,40],"orient":"right","title":null,"labels":false,"tickSize":6,"tickWidth":6}},"fill":{"field":"v","type":"quantitative","legend":null,"scale":{"type":"threshold","domain":[2.01,3.29,4.57,5.85,7.13,8.41,9.69,10.97,12.25,13.53,14.81,16.09,17.37,18.65,19.93],"range":["#ff0000","#ff2000","#ff4500","#ff6000","#ff8800","#ffa500","#a6c080","#9fba86","#95b38b","#8bab91","#80a39b","#7a9da2","#6f97ab","#6490b3","#5585bb","#0000ff"]}}}}],"resolve":{"axis":{"x":"independent","y":"independent"}}},{"width":12,"height":1698,"data":{"values":[{"lo":0.704,"hi":2.01,"v":1.4},{"lo":2.01,"hi":3.29,"v":2.6},{"lo":3.29,"hi":4.57,"v":3.9},{"lo":4.57,"hi":5.85,"v":5.2},{"lo":5.85,"hi":7.13,"v":6.5},{"lo":7.13,"hi":8.41,"v":7.8},{"lo":8.41,"hi":9.69,"v":9},{"lo":9.69,"hi":10.97,"v":10.3},{"lo":10.97,"hi":12.25,"v":11.6},{"lo":12.25,"hi":13.53,"v":12.9},{"lo":13.53,"hi":14.81,"v":14.2},{"lo":14.81,"hi":16.09,"v":15.4},{"lo":16.09,"hi":17.37,"v":16.7},{"lo":17.37,"hi":18.65,"v":18},{"lo":18.65,"hi":19.93,"v":19.3},{"lo":19.93,"hi":21.23,"v":21}]},"layer":[{"mark":"rect","encoding":{"x":{"datum":0,"type":"quantitative","scale":{"domain":[0,1]},"axis":{"zindex":1,"title":null,"labels":false,"ticks":false,"orient":"bottom"}},"x2":{"datum":1},"y":{"field":"lo","type":"quantitative","scale":{"domain":[0.704,21.23],"nice":false,"zero":false},"axis":{"zindex":1,"title":null,"labels":false,"ticks":false,"orient":"left"}},"y2":{"field":"hi"},"fill":{"field":"v","type":"quantitative","legend":null,"scale":{"type":"threshold","domain":[2.01,3.29,4.57,5.85,7.13,8.41,9.69,10.97,12.25,13.53,14.81,16.09,17.37,18.65,19.93],"range":["#ff0000","#ff2000","#ff4500","#ff6000","#ff8800","#ffa500","#a6c080","#9fba86","#95b38b","#8bab91","#80a39b","#7a9da2","#6f97ab","#6490b3","#5585bb","#0000ff"]}}}},{"mark":"rect","encoding":{"x":{"datum":0,"type":"quantitative","scale":{"domain":[0,1]},"axis":{"zindex":1,"title":null,"labels":false,"ticks":false,"orient":"top"}},"x2":{"datum":1},"y":{"field":"lo","type":"quantitative","scale":{"domain":[0.704,21.23],"nice":false,"zero":false},"axis":{"zindex":1,"title":null,"values":[5,10,15,20],"orient":"right","labelFont":"Liberation Sans","labelFontWeight":"bold","labelFontSize":47,"labelPadding":3,"labelOffset":3,"tickSize":7,"tickWidth":3}},"y2":{"field":"hi"},"fill":{"field":"v","type":"quantitative","legend":null,"scale":{"type":"threshold","domain":[2.01,3.29,4.57,5.85,7.13,8.41,9.69,10.97,12.25,13.53,14.81,16.09,17.37,18.65,19.93],"range":["#ff0000","#ff2000","#ff4500","#ff6000","#ff8800","#ffa500","#a6c080","#9fba86","#95b38b","#8bab91","#80a39b","#7a9da2","#6f97ab","#6490b3","#5585bb","#0000ff"]}}}}],"resolve":{"axis":{"x":"independent","y":"independent"}}}]}
